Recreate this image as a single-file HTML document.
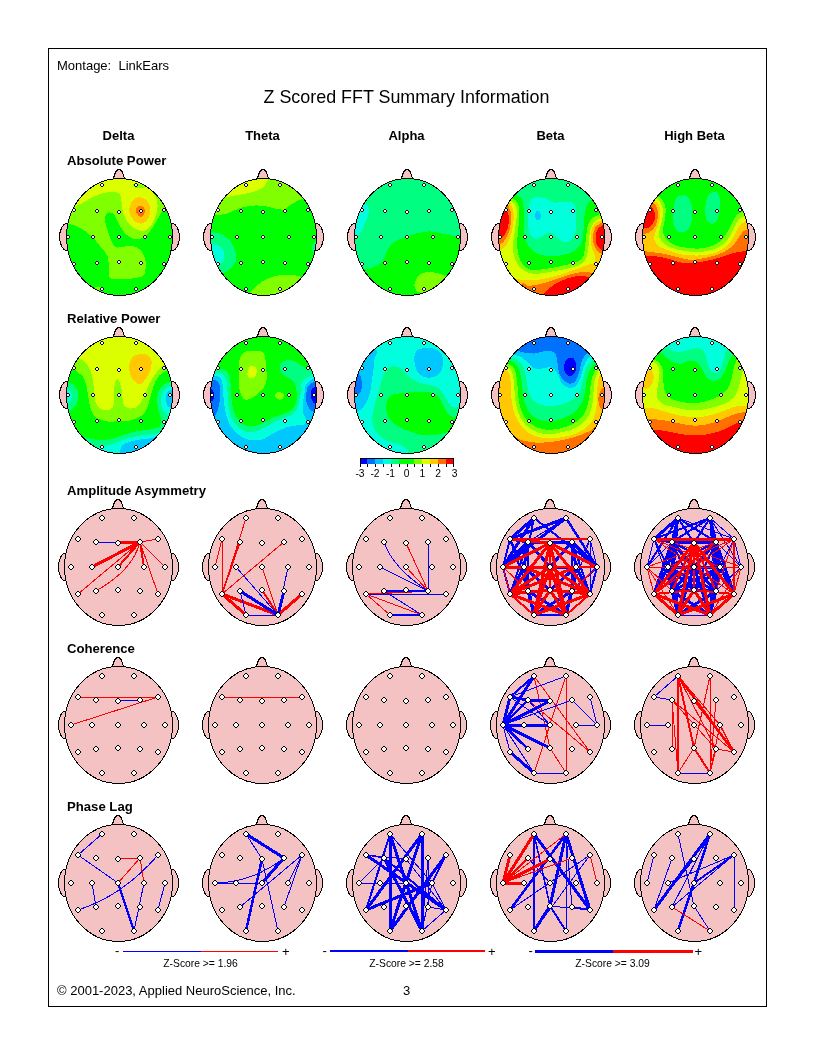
<!DOCTYPE html>
<html><head><meta charset="utf-8"><title>Z Scored FFT Summary Information</title>
<style>
html,body{margin:0;padding:0;background:#fff}
body{width:816px;height:1056px;overflow:hidden;position:relative}
svg{position:absolute;left:0;top:0}
svg .e{fill:#fff;stroke:#000;shape-rendering:auto}
svg text{font-family:"Liberation Sans",Arial,sans-serif;fill:#000;white-space:pre}
.frame{position:absolute;left:48px;top:48px;width:717px;height:957px;border:1px solid #000}
</style></head><body>
<div class="frame"></div>
<svg width="816" height="1056" viewBox="0 0 816 1056">
<defs>
<g id="e6"><path d="M2,0h2v1h1v1h1v2h-1v1h-1v1h-2v-1h-1v-1h-1v-2h1v-1h1z" fill="#000"/><path d="M2,1h2v1h1v2h-1v1h-2v-1h-1v-2h1z" fill="#fff"/></g>
<g id="e4"><path d="M1,0h2v1h1v2h-1v1h-2v-1h-1v-2h1z" fill="#000"/><rect x="1" y="1" width="2" height="2" fill="#fff"/></g>
</defs>
<g shape-rendering="crispEdges">
<ellipse cx="68" cy="237" rx="8.5" ry="14" fill="#f4c2c2" stroke="#000"/>
<ellipse cx="171" cy="237" rx="8.5" ry="14" fill="#f4c2c2" stroke="#000"/>
<path d="M112.5,180 C113.5,178.5 114,177 114.5,175 C115.5,171.5 117,169.5 119,169.5 C121,169.5 122.5,171.5 123.5,175 C124,177 124.5,178.5 125.5,180Z" fill="#f4c2c2" stroke="#000"/>
<clipPath id="c0"><ellipse cx="119.5" cy="237" rx="53" ry="58.5"/></clipPath>
<g clip-path="url(#c0)">
<rect x="62" y="175" width="114" height="124" fill="#00ff00"/>
<path d="M55.1,224.1 C57.1,235.6 63.7,223.8 67.2,224.1 C70.6,224.4 72.9,224.7 75.7,225.8 C78.6,226.9 81.5,228.7 84.3,230.6 C87.2,232.6 90,234.6 92.9,237.5 C95.8,240.3 99,244.6 101.5,247.8 C103.9,250.9 106.2,252.9 107.5,256.4 C108.8,259.8 108.8,264.9 109.2,268.4 C109.5,271.8 108.7,275.2 109.5,277 C110.4,278.7 111.4,278.7 114.3,279 C117.3,279.4 123.1,279.3 127.2,279 C131.4,278.7 136.3,278.2 139.2,277.3 C142.1,276.4 143.6,276.2 144.7,273.5 C145.8,270.9 145.9,264.9 145.6,261.5 C145.2,258.1 144,255.2 142.6,252.9 C141.3,250.6 139.6,248.9 137.5,247.8 C135.4,246.6 132.4,246.2 129.8,246.1 C127.2,245.9 124.3,246.7 122.1,246.9 C119.8,247.1 117.7,248 116.1,247.3 C114.4,246.6 113.4,245.1 112.1,242.6 C110.8,240.1 109.5,235.8 108.3,232.3 C107.2,228.9 105.7,224.9 105.2,222 C104.8,219.2 105.1,216.8 105.8,215.2 C106.4,213.6 107.8,212.4 109.2,212.3 C110.5,212.1 112.5,213 113.8,214.3 C115.2,215.7 116.1,218.2 117.3,220.3 C118.4,222.5 119.3,224.9 120.7,227.2 C122.1,229.5 123.8,232.2 125.8,234.1 C127.8,235.9 130.4,237.5 132.7,238.3 C135,239.1 137.3,239.3 139.6,238.9 C141.8,238.4 144.2,237.4 146.4,235.4 C148.7,233.5 150.9,230.3 152.9,227.2 C155,224.1 157.2,219.8 158.9,216.9 C160.7,214 161.1,211.6 163.2,210 C165.4,208.5 167.8,212.6 171.8,207.5 C175.8,202.3 184.7,187.9 187.3,179.2 C189.8,170.4 209.3,159.1 187.3,155.1 C165.2,151.1 77.2,143.6 55.1,155.1 C33.1,166.6 53.1,212.6 55.1,224.1Z" fill="#80ff00"/>
<path d="M67.2,205.8 C69,214 75.4,205.5 78.3,204.9 C81.2,204.2 81.9,203.1 84.3,201.8 C86.7,200.5 90,198.5 92.9,197.2 C95.8,195.8 98.6,194.6 101.5,193.7 C104.3,192.9 107.5,192.2 110,192 C112.6,191.8 115.2,192 116.9,192.5 C118.6,193.1 119.5,193.7 120.3,195.5 C121.1,197.2 121.3,200.5 121.7,203.2 C122.1,205.9 122.3,209.2 122.9,211.8 C123.5,214.3 124.2,216.3 125.5,218.6 C126.8,220.9 128.6,223.6 130.6,225.5 C132.6,227.3 135.2,228.9 137.5,229.8 C139.8,230.6 142.2,231.2 144.4,230.6 C146.5,230.1 148.7,228.3 150.4,226.3 C152.1,224.3 153.5,221.3 154.7,218.6 C155.8,215.9 156.8,212.9 157.2,210 C157.7,207.2 157.6,203.9 157.2,201.5 C156.9,199 155.6,197 155,195.5 C154.4,193.9 151.1,195.1 153.6,192.4 C156.1,189.7 167.4,185.4 170.1,179.2 C172.8,173 187.3,159.1 170.1,155.1 C152.9,151.1 84.3,146.7 67.2,155.1 C50,163.6 65.3,197.5 67.2,205.8Z" fill="#dcff00"/>
<path d="M133.7,184 C134.7,183.6 137.4,183.5 139.2,184 C141,184.4 144.4,185.8 144.7,186.5 C145,187.2 142.8,187.9 141.3,188.1 C139.8,188.3 137.1,188 135.8,187.7 C134.5,187.4 133.7,187 133.4,186.4 C133,185.7 132.8,184.4 133.7,184Z" fill="#80ff00"/>
<path d="M140.1,197.2 C141.8,197.4 144.4,198.2 146.1,199.7 C147.7,201.3 149.5,204 150,206.6 C150.6,209.2 150.2,212.8 149.5,215.2 C148.9,217.6 147.5,219.8 146.1,221.2 C144.6,222.6 142.8,223.8 140.9,223.8 C139.1,223.8 136.6,222.6 134.9,221.2 C133.2,219.8 131.6,217.2 130.6,215.2 C129.7,213.2 129.1,211.3 129.3,209.2 C129.4,207 130.5,204.1 131.5,202.3 C132.5,200.5 134,199.2 135.4,198.4 C136.9,197.5 138.3,196.9 140.1,197.2Z" fill="#ffc800"/>
<path d="M140.9,205.8 C141.9,206.1 143.7,207.2 144.4,208.3 C145,209.5 145.1,211.2 144.7,212.6 C144.3,214 142.8,216.1 141.8,216.6 C140.7,217 139.3,216.3 138.4,215.5 C137.4,214.7 136.4,213 136.1,211.8 C135.8,210.5 136.3,208.9 136.6,208 C137,207 137.6,206.5 138.4,206.1 C139.1,205.7 139.9,205.4 140.9,205.8Z" fill="#ff7000"/>
<path d="M93.8,288.1 C94.6,287.6 98.4,286.7 99.8,286.7 C101.1,286.7 102,287.6 101.8,288.1 C101.6,288.6 99.5,289.7 98.4,290 C97.2,290.3 95.7,290.3 95,290 C94.2,289.7 92.9,288.6 93.8,288.1Z" fill="#80ff00"/>
</g>
<ellipse cx="119.5" cy="237" rx="53" ry="58.5" fill="none" stroke="#000"/>
<ellipse cx="212" cy="237" rx="8.5" ry="14" fill="#f4c2c2" stroke="#000"/>
<ellipse cx="315" cy="237" rx="8.5" ry="14" fill="#f4c2c2" stroke="#000"/>
<path d="M256.5,180 C257.5,178.5 258,177 258.5,175 C259.5,171.5 261,169.5 263,169.5 C265,169.5 266.5,171.5 267.5,175 C268,177 268.5,178.5 269.5,180Z" fill="#f4c2c2" stroke="#000"/>
<clipPath id="c1"><ellipse cx="263.5" cy="237" rx="53" ry="58.5"/></clipPath>
<g clip-path="url(#c1)">
<rect x="206" y="175" width="114" height="124" fill="#00ff00"/>
<path d="M199.1,215.9 C201.1,225.9 207.7,215.7 211.2,215.5 C214.6,215.4 216.9,215.2 219.7,214.8 C222.6,214.4 225.2,214.2 228.3,213.1 C231.5,212.1 234.9,209.9 238.6,208.7 C242.3,207.4 246.6,206.2 250.6,205.8 C254.6,205.3 258.9,205.4 262.6,205.8 C266.3,206.1 269.5,207.3 272.9,208 C276.4,208.6 280.8,209.9 283.2,209.7 C285.6,209.5 285.2,208.4 287.5,207 C289.8,205.5 293.9,202.6 296.9,201.1 C299.9,199.6 302.7,198.7 305.5,198 C308.4,197.4 309.8,197.5 314.1,197.2 C318.4,196.9 328.4,203.3 331.3,196.3 C334.1,189.3 353.3,162 331.3,155.1 C309.2,148.3 221.2,145 199.1,155.1 C177.1,165.3 197.1,205.8 199.1,215.9Z" fill="#80ff00"/>
<path d="M211.2,198 C213.6,205 221.7,197.6 225.7,197.2 C229.7,196.7 231.9,196 235.2,195.5 C238.5,194.9 242.3,194.4 245.5,193.7 C248.6,193.1 251.2,192.5 254,191.5 C256.9,190.5 260.5,189.4 262.6,187.7 C264.8,186.1 266,183.4 266.9,181.7 C267.8,180 267.9,181.9 268.1,177.4 C268.3,173 277.6,158.9 268.1,155.1 C258.6,151.4 220.7,148 211.2,155.1 C201.7,162.3 208.7,191 211.2,198Z" fill="#dcff00"/>
<path d="M199.1,231.5 C200.9,224.2 206.6,231.3 209.4,231.5 C212.3,231.7 214,232.1 216.3,232.7 C218.6,233.3 220.7,233.4 223.2,234.9 C225.6,236.4 228.7,238.8 230.9,241.8 C233,244.8 235.3,249.4 236,252.9 C236.7,256.5 236.5,260.4 235.2,263.2 C233.9,266.1 230.5,268.4 228.3,270.1 C226.2,271.8 224,272.8 222.3,273.5 C220.6,274.3 221.9,274.3 218,274.5 C214.2,274.8 202.3,282.4 199.1,275.2 C196,268.1 197.4,238.8 199.1,231.5Z" fill="#00ff80"/>
<path d="M199.1,244 C201,240.5 207.4,243.9 210.3,244 C213.2,244.1 214.4,244.1 216.3,244.7 C218.2,245.3 220.1,246.1 221.5,247.8 C222.8,249.4 224.4,252.2 224.5,254.6 C224.7,257.1 223.5,260.7 222.3,262.4 C221.1,264.1 218.9,264.5 217.2,264.9 C215.4,265.4 215,265.2 212,265.3 C209,265.3 201.3,268.8 199.1,265.3 C197,261.7 197.3,247.6 199.1,244Z" fill="#00ffdc"/>
<path d="M321,241.8 C320.2,239.8 317.4,241.7 316.2,242 C314.9,242.2 314.1,242.4 313.4,243.3 C312.7,244.3 312.1,246.2 312,247.8 C312,249.3 312.5,251.6 313.2,252.6 C314,253.6 315.4,253.4 316.7,253.6 C318,253.8 320.2,255.6 321,253.6 C321.7,251.6 321.8,243.7 321,241.8Z" fill="#00ff80"/>
<path d="M321,244.4 C320.2,243.3 317.2,244.1 316.2,244.7 C315.1,245.3 314.7,246.8 314.6,247.8 C314.5,248.8 314.4,250.3 315.5,250.9 C316.5,251.4 320,252.3 321,251.2 C321.9,250.1 321.8,245.4 321,244.4Z" fill="#00ffdc"/>
<path d="M248.6,295 C249.6,291.3 250.6,292.1 251.5,291 C252.4,290 252.6,290 254,288.6 C255.5,287.3 257.8,284.6 260.1,283 C262.3,281.3 265.1,279.9 267.8,278.7 C270.5,277.5 273.2,276.4 276.4,275.8 C279.5,275.1 283.2,274.9 286.6,274.9 C290.1,274.9 294.1,275 296.9,275.6 C299.8,276.2 301.9,277.4 303.8,278.3 C305.7,279.3 305.2,280 308.1,281.2 C311,282.4 318.8,280.2 321,285.5 C323.1,290.8 333.5,308.4 321,313 C308.4,317.6 257.5,316 245.5,313 C233.4,310 247.6,298.6 248.6,295Z" fill="#80ff00"/>
</g>
<ellipse cx="263.5" cy="237" rx="53" ry="58.5" fill="none" stroke="#000"/>
<ellipse cx="356" cy="237" rx="8.5" ry="14" fill="#f4c2c2" stroke="#000"/>
<ellipse cx="459" cy="237" rx="8.5" ry="14" fill="#f4c2c2" stroke="#000"/>
<path d="M400.5,180 C401.5,178.5 402,177 402.5,175 C403.5,171.5 405,169.5 407,169.5 C409,169.5 410.5,171.5 411.5,175 C412,177 412.5,178.5 413.5,180Z" fill="#f4c2c2" stroke="#000"/>
<clipPath id="c2"><ellipse cx="407.5" cy="237" rx="53" ry="58.5"/></clipPath>
<g clip-path="url(#c2)">
<rect x="350" y="175" width="114" height="124" fill="#00ff80"/>
<path d="M358.6,269.7 C361.4,262.5 363.2,269.6 365.5,269.2 C367.7,268.9 370,268.4 372.3,267.5 C374.6,266.7 377.2,265.7 379.2,264.1 C381.2,262.5 383,260.2 384.3,258.1 C385.6,255.9 385.8,253.5 386.9,251.2 C388,248.9 389.3,246.2 391.2,244.4 C393,242.5 395.5,241.4 398,240.1 C400.6,238.8 403.8,237.7 406.6,236.6 C409.5,235.6 412.3,234.5 415.2,233.7 C418.1,232.9 421.2,232.4 423.8,232 C426.4,231.6 427.8,231.3 430.6,231.5 C433.5,231.7 437.5,232.5 440.9,233.2 C444.4,233.9 447.9,234.9 451.2,235.4 C454.5,235.9 456.7,236.1 460.7,236.1 C464.7,236.2 472.8,223 475.3,235.8 C477.7,248.6 496.4,300.1 475.3,313 C454.1,325.8 367.7,320.2 348.3,313 C328.8,305.8 355.7,277 358.6,269.7Z" fill="#00ff00"/>
<path d="M343.1,202.8 C346.6,197.4 359.7,202.4 363.7,202.8 C367.8,203.3 366.6,204.3 367.5,205.4 C368.4,206.5 369.1,207.6 369.2,209.2 C369.3,210.8 368.9,212.9 368.2,215.2 C367.5,217.5 366.2,220.2 365.1,222.9 C364,225.6 362.8,229.5 361.7,231.5 C360.5,233.5 359.5,234.3 358.2,234.9 C357,235.5 356.8,235.2 354.3,235.3 C351.8,235.3 345,240.7 343.1,235.3 C341.3,229.9 339.7,208.2 343.1,202.8Z" fill="#00ffdc"/>
<path d="M449.2,201.1 L451.2,204.9 L452.6,208.7 L465,209 L465,201.1Z" fill="#00ffdc"/>
<path d="M414.3,285.5 C414.3,283.6 415.1,281.4 416.1,279.5 C417.1,277.7 418.5,275.6 420.4,274.4 C422.2,273.1 424.6,272.4 427.2,272.1 C429.8,271.9 433.2,272.2 435.8,272.7 C438.4,273.1 440.5,273.9 442.7,274.7 C444.8,275.5 444.9,276.1 448.7,277.3 C452.4,278.5 462.2,276.2 465,282.1 C467.7,288 471.7,307.8 465,313 C458.2,318.1 431.8,316.1 424.6,313 C417.4,309.9 423.1,298.1 421.7,294.5 C420.4,290.8 417.8,292.5 416.6,291 C415.3,289.5 414.4,287.4 414.3,285.5Z" fill="#80ff00"/>
</g>
<ellipse cx="407.5" cy="237" rx="53" ry="58.5" fill="none" stroke="#000"/>
<ellipse cx="500" cy="237" rx="8.5" ry="14" fill="#f4c2c2" stroke="#000"/>
<ellipse cx="603" cy="237" rx="8.5" ry="14" fill="#f4c2c2" stroke="#000"/>
<path d="M544.5,180 C545.5,178.5 546,177 546.5,175 C547.5,171.5 549,169.5 551,169.5 C553,169.5 554.5,171.5 555.5,175 C556,177 556.5,178.5 557.5,180Z" fill="#f4c2c2" stroke="#000"/>
<clipPath id="c3"><ellipse cx="551.5" cy="237" rx="53" ry="58.5"/></clipPath>
<g clip-path="url(#c3)">
<rect x="494" y="175" width="114" height="124" fill="#00ff00"/>
<path d="M516,194.6 C518.6,196.5 520.5,196.3 521.8,198.9 C523.1,201.5 523.7,206.2 524,210 C524.3,213.9 523.6,218 523.7,222 C523.8,226.1 523.9,230.3 524.5,234.1 C525.2,237.8 526,241.5 527.5,244.4 C529,247.2 531,249.4 533.5,251.2 C535.9,253 538.6,254.4 542,255.2 C545.5,256 550.1,256.2 554.1,256 C558.1,255.9 562.6,255.2 566.1,254.3 C569.5,253.4 572.2,252.5 574.6,250.9 C577.1,249.2 579.2,247.2 580.7,244.4 C582.1,241.6 582.7,238.1 583.2,234.1 C583.8,230.1 583.7,224.6 584.1,220.3 C584.5,216 584.9,211.4 585.8,208.3 C586.7,205.2 587.8,203.5 589.2,201.8 C590.7,200.1 591.1,200.7 594.4,198.4 C597.7,196 606.5,194.9 609,187.7 C611.4,180.5 627.5,160.6 609,155.1 C590.4,149.7 514.6,149.7 497.4,155.1 C480.3,160.6 502.9,181.2 506,187.7 C509.1,194.3 513.3,192.7 516,194.6Z" fill="#00ff80"/>
<path d="M531.8,198.9 C533.4,197.3 536,197.2 538.6,197.2 C541.2,197.2 544.6,198 547.2,198.9 C549.8,199.7 551.5,201.7 554.1,202.3 C556.6,202.9 559.8,202.3 562.6,202.3 C565.5,202.3 569.1,201.6 571.2,202.3 C573.4,203 574.6,204.2 575.5,206.6 C576.4,209 576.4,212.9 576.4,216.9 C576.4,220.9 576.2,226.9 575.5,230.6 C574.8,234.3 573.6,237.3 572.1,239.2 C570.5,241.2 568.2,242.3 566.1,242.3 C563.9,242.3 561.5,240.7 559.2,239.2 C556.9,237.7 554.6,234.1 552.3,233.2 C550.1,232.3 547.8,233.2 545.5,234.1 C543.2,234.9 540.8,237.8 538.6,238.3 C536.5,238.9 534.3,238.8 532.6,237.5 C531,236.2 529.4,233.8 528.7,230.6 C527.9,227.5 528,222.6 528,218.6 C528,214.6 528,209.9 528.7,206.6 C529.3,203.3 530.1,200.5 531.8,198.9Z" fill="#00ffdc"/>
<path d="M536,211.8 C536.8,210.8 538.7,210.8 539.5,211.4 C540.2,212 540.6,213.8 540.7,215.2 C540.8,216.5 540.6,218.6 540,219.5 C539.4,220.3 537.7,220.8 536.9,220.3 C536.1,219.9 535.3,218.3 535.2,216.9 C535,215.5 535.3,212.7 536,211.8Z" fill="#00c8ff"/>
<path d="M512.2,198.5 C515.5,199.6 516,200.6 517.2,202.7 C518.4,204.7 519.1,207.7 519.4,210.9 C519.7,214.1 519.2,218.2 518.9,222 C518.6,225.9 518,230.1 517.7,234.1 C517.4,238.1 517,242.4 517.2,246.1 C517.4,249.8 517.9,253.2 518.9,256.4 C519.9,259.5 521,262.7 523.2,264.9 C525.3,267.2 528.6,269.3 531.8,270.1 C534.9,270.8 538.3,269.8 542,269.4 C545.8,269 550.1,268.3 554.1,267.5 C558.1,266.8 562.1,265.9 566.1,264.9 C570.1,263.9 575.2,263.1 578.1,261.5 C581,259.9 582.4,258.4 583.6,255.5 C584.8,252.6 584.8,247.9 585.3,244.4 C585.7,240.8 585.8,237.5 586.3,234.1 C586.8,230.6 587.3,226.5 588.4,223.8 C589.4,221 590.9,219.2 592.7,217.8 C594.4,216.3 596,215.6 598.7,214.8 C601.4,214.1 605.5,208 609,213.5 C612.4,219 617.5,231.2 619.3,247.8 C621,264.4 641.6,302.1 619.3,313 C597,323.8 507.7,326.7 485.4,313 C463.1,299.3 483.4,250.1 485.4,230.6 C487.4,211.2 493,201.7 497.4,196.3 C501.9,191 508.9,197.5 512.2,198.5Z" fill="#80ff00"/>
<path d="M510,200.8 C513.2,201.8 514,203.1 515.1,204.9 C516.3,206.7 516.7,208.9 516.8,211.8 C517,214.6 516.4,218.3 516,222 C515.5,225.8 514.8,230.3 514.3,234.1 C513.7,237.8 513,240.9 512.9,244.4 C512.8,247.8 513,251.5 513.7,254.6 C514.5,257.8 515.6,260.7 517.2,263.2 C518.7,265.8 520.7,268.4 523.2,270.1 C525.6,271.8 528.9,272.9 531.8,273.5 C534.6,274.1 537.2,273.8 540.3,273.5 C543.5,273.2 546.9,272.4 550.6,271.8 C554.3,271.2 558.6,270.6 562.6,269.7 C566.6,268.9 571.4,267.7 574.6,266.7 C577.9,265.6 580.4,264.9 582.4,263.2 C584.4,261.5 585.7,258.9 586.7,256.4 C587.7,253.8 587.9,250.9 588.4,247.8 C588.8,244.6 588.8,240.8 589.2,237.5 C589.7,234.2 590.1,230.6 590.9,228.1 C591.8,225.5 592.8,223.7 594.4,222 C596,220.4 598,219.1 600.4,218.3 C602.8,217.4 605.8,212 609,216.9 C612.1,221.8 617.5,231.8 619.3,247.8 C621,263.8 641.6,302.1 619.3,313 C597,323.8 507.7,326.7 485.4,313 C463.1,299.3 483.7,249.6 485.4,230.6 C487.1,211.6 491.6,203.9 495.7,198.9 C499.8,193.9 506.7,199.8 510,200.8Z" fill="#dcff00"/>
<path d="M514.9,279.2 C517.5,277.2 520.4,280.2 523.2,280.4 C526,280.6 528.9,280.5 531.8,280.4 C534.6,280.2 537.2,280 540.3,279.5 C543.5,279 547.2,278.2 550.6,277.3 C554.1,276.4 557.5,275.4 560.9,274.4 C564.4,273.3 568.1,272 571.2,270.9 C574.4,269.9 577.1,269 579.8,268 C582.5,267 585.2,265.7 587.5,264.9 C589.8,264.1 592.2,264.1 593.5,263.2 C594.8,262.4 595.1,261.2 595.2,259.8 C595.4,258.4 594.9,256.6 594.4,254.6 C593.8,252.6 592.4,250.4 591.8,247.8 C591.2,245.2 590.7,242.1 590.6,239.2 C590.5,236.3 590.8,233.1 591.5,230.6 C592.1,228.1 592.9,225.8 594.4,224.1 C595.9,222.4 598,221.4 600.4,220.7 C602.8,219.9 605.8,215.1 609,219.6 C612.1,224.2 617.5,232.2 619.3,247.8 C621,263.3 638.4,302.1 619.3,313 C600.1,323.8 522.9,316.4 504.3,313 C485.7,309.5 506,298 507.7,292.4 C509.5,286.8 512.4,281.2 514.9,279.2Z" fill="#ffc800"/>
<path d="M487.1,202.5 C490.6,194.4 503.7,201.9 507.7,202.5 C511.8,203 510.5,203.9 511.5,205.8 C512.5,207.6 513.5,210.5 513.7,213.5 C514,216.5 513.7,220.3 513.2,223.8 C512.8,227.2 512.1,230.9 511.2,234.1 C510.3,237.2 509,240.2 507.7,242.6 C506.4,245.1 504.9,247.3 503.4,248.6 C502,250 501.9,250.3 499.2,250.7 C496.4,251.1 489.1,259.3 487.1,251.2 C485.1,243.2 483.7,210.6 487.1,202.5Z" fill="#ffc800"/>
<path d="M487.1,205.4 C490.3,198.9 502.3,204.9 506,205.4 C509.7,206 508.6,207 509.5,208.7 C510.3,210.3 511,212.4 511.2,215.2 C511.3,218 511.1,222.2 510.5,225.5 C509.9,228.8 508.9,232.2 507.7,234.9 C506.6,237.6 504.9,240.3 503.4,241.8 C502,243.3 501.9,243.4 499.2,243.8 C496.4,244.3 489.1,250.8 487.1,244.4 C485.1,237.9 484,211.9 487.1,205.4Z" fill="#ff7000"/>
<path d="M487.1,208.7 C489.9,203.7 500.6,208.3 504,208.8 C507.3,209.4 506.6,210.1 507.4,211.8 C508.2,213.4 508.9,215.9 508.9,218.6 C509,221.3 508.5,225.3 507.7,228.1 C507,230.8 505.6,233.2 504.3,234.9 C503,236.7 502.9,237.9 500,238.5 C497.2,239.2 489.3,243.8 487.1,238.9 C485,233.9 484.3,213.7 487.1,208.7Z" fill="#ff0000"/>
<path d="M612.4,222 C611.2,216.6 607.5,222 605.5,222.2 C603.5,222.4 602,222.6 600.4,223.4 C598.7,224.3 596.8,225.4 595.6,227.2 C594.4,229 593.6,231.8 593.2,234.1 C592.7,236.3 592.7,238.6 593,240.9 C593.3,243.2 594.1,245.8 595.2,247.8 C596.3,249.8 597.8,251.8 599.5,252.9 C601.2,254.1 603.4,254.5 605.5,254.8 C607.7,255.1 611.2,260.3 612.4,254.8 C613.5,249.4 613.5,227.5 612.4,222Z" fill="#ff7000"/>
<path d="M612.4,224.8 C611.2,220.5 607.4,224.8 605.5,225 C603.7,225.2 602.6,225.2 601.2,226 C599.9,226.8 598.2,228.1 597.3,229.8 C596.4,231.4 595.8,233.6 595.6,235.8 C595.4,237.9 595.5,240.6 596.1,242.6 C596.7,244.6 597.9,246.5 599,247.8 C600.2,249.1 600.7,250 603,250.5 C605.2,251 610.8,255.2 612.4,250.9 C614,246.6 613.5,229.1 612.4,224.8Z" fill="#ff0000"/>
<path d="M521.1,284.8 C523.7,280.3 525.7,285.9 528.3,285.9 C531,285.8 533.8,285.3 536.9,284.7 C540,284 543.8,283.1 547.2,282.1 C550.6,281.1 554.1,279.8 557.5,278.7 C560.9,277.5 564.4,276.2 567.8,275.2 C571.2,274.2 574.9,273.2 578.1,272.7 C581.2,272.1 584.2,271.7 586.7,271.8 C589.1,271.9 590.7,272.7 592.7,273.2 C594.7,273.6 595.4,272.9 598.7,274.4 C602,275.9 610.1,275.7 612.4,282.1 C614.7,288.5 629,307.8 612.4,313 C595.8,318.1 528.1,317.7 512.9,313 C497.7,308.3 518.5,289.4 521.1,284.8Z" fill="#ff7000"/>
<path d="M543.4,295.5 C545,291.6 546.3,291.6 548.1,289.8 C549.8,288 551.6,286.2 554.1,284.7 C556.5,283.1 559.8,281.6 562.6,280.4 C565.5,279.2 568.4,278 571.2,277.3 C574.1,276.6 577.2,276.2 579.8,276.1 C582.4,276 584.7,276.1 586.7,276.6 C588.7,277.1 587.5,277.5 591.8,279 C596.1,280.5 609,279.9 612.4,285.5 C615.8,291.2 624.7,308.4 612.4,313 C600.1,317.6 550.1,315.9 538.6,313 C527.1,310.1 541.8,299.3 543.4,295.5Z" fill="#ff0000"/>
</g>
<ellipse cx="551.5" cy="237" rx="53" ry="58.5" fill="none" stroke="#000"/>
<ellipse cx="644" cy="237" rx="8.5" ry="14" fill="#f4c2c2" stroke="#000"/>
<ellipse cx="747" cy="237" rx="8.5" ry="14" fill="#f4c2c2" stroke="#000"/>
<path d="M688.5,180 C689.5,178.5 690,177 690.5,175 C691.5,171.5 693,169.5 695,169.5 C697,169.5 698.5,171.5 699.5,175 C700,177 700.5,178.5 701.5,180Z" fill="#f4c2c2" stroke="#000"/>
<clipPath id="c4"><ellipse cx="695.5" cy="237" rx="53" ry="58.5"/></clipPath>
<g clip-path="url(#c4)">
<rect x="638" y="175" width="114" height="124" fill="#00ff00"/>
<path d="M680.9,195.5 C682.5,195.3 685.2,195 686.9,196.3 C688.6,197.6 690.3,200.3 691.2,203.2 C692.1,206 692.1,210 692.1,213.5 C692.1,216.9 692.1,220.9 691.2,223.8 C690.3,226.6 688.6,229.2 686.9,230.6 C685.2,232.1 682.8,232.5 680.9,232.3 C679,232.2 677,231.5 675.8,229.8 C674.5,228.1 673.6,225.1 673.2,222 C672.8,219 672.9,215.2 673.2,211.8 C673.5,208.3 674.2,203.9 674.9,201.5 C675.6,199 676.5,198.2 677.5,197.2 C678.5,196.2 679.3,195.6 680.9,195.5Z" fill="#00ff80"/>
<path d="M713.5,192 C715.2,191.7 717.6,192.2 718.6,193.7 C719.7,195.3 719.9,198.5 720,201.5 C720.2,204.5 720,208.6 719.5,211.8 C719,214.9 718.2,218.3 716.9,220.3 C715.6,222.3 713.4,223.6 711.8,223.8 C710.2,223.9 708.6,222.9 707.5,221.2 C706.4,219.5 705.6,216.5 705.3,213.5 C705,210.5 705.3,206.2 705.8,203.2 C706.3,200.2 707.1,197.3 708.4,195.5 C709.6,193.6 711.8,192.3 713.5,192Z" fill="#00ff80"/>
<path d="M657.4,196 C660.7,197.3 661.5,198.5 662.9,200.6 C664.2,202.7 665.1,205.3 665.5,208.3 C665.8,211.3 665.5,215.2 665.1,218.6 C664.7,222 663.1,226.1 662.9,228.9 C662.7,231.8 663.1,233.6 664.1,235.8 C665.1,237.9 666.7,240.1 668.9,241.8 C671.1,243.5 674.3,245.1 677.5,246.1 C680.6,247.1 684.3,247.4 687.8,247.8 C691.2,248.2 694.6,248.8 698.1,248.6 C701.5,248.5 705.2,247.8 708.4,246.9 C711.5,246.1 714.4,245.1 716.9,243.5 C719.5,241.9 721.8,239.9 723.8,237.5 C725.8,235.1 727.4,231.8 728.9,228.9 C730.5,226.1 731.8,222.8 733.2,220.3 C734.7,217.9 735.8,215.8 737.5,214.3 C739.2,212.9 741,212.3 743.5,211.8 C746.1,211.2 749.7,204.9 753,210.9 C756.2,216.9 761.5,230.8 763.3,247.8 C765,264.8 785.6,302.1 763.3,313 C741,323.8 651.7,326.7 629.4,313 C607.1,299.3 627.1,250.6 629.4,230.6 C631.7,210.6 638.5,198.7 643.2,192.9 C647.8,187.1 654.1,194.7 657.4,196Z" fill="#80ff00"/>
<path d="M655.2,198 C658.3,199.2 659,200.3 660.3,202.3 C661.6,204.3 662.6,207 662.9,210 C663.2,213 662.6,217 662,220.3 C661.5,223.6 659.9,226.9 659.5,229.8 C659,232.6 658.6,235.1 659.5,237.5 C660.3,239.9 662.2,242.5 664.6,244.4 C667,246.2 670.5,247.5 674,248.6 C677.6,249.8 682,250.6 686,251.2 C690.1,251.8 694.1,252.2 698.1,252.1 C702.1,251.9 706.5,251.2 710.1,250.4 C713.6,249.5 716.6,248.6 719.5,246.9 C722.4,245.2 725.1,242.6 727.2,240.1 C729.4,237.5 730.8,234.3 732.4,231.5 C733.9,228.6 735.2,225.2 736.7,222.9 C738.1,220.6 739.2,219 741,217.8 C742.7,216.5 745,216 747,215.5 C749,215 750.2,209.5 753,214.8 C755.7,220.2 761.5,231.4 763.3,247.8 C765,264.1 785.6,302.1 763.3,313 C741,323.8 651.7,326.7 629.4,313 C607.1,299.3 627.4,250.2 629.4,230.6 C631.4,211 637.2,200.9 641.4,195.5 C645.7,190 652,196.9 655.2,198Z" fill="#dcff00"/>
<path d="M653.1,200.3 C656.2,201.5 657.1,202.6 658.3,204.5 C659.5,206.5 660.1,209 660.3,211.8 C660.5,214.5 660.2,218 659.5,221.2 C658.7,224.3 656.9,227.6 656,230.6 C655.2,233.6 653.9,236.6 654.3,239.2 C654.7,241.8 656.2,244.2 658.6,246.1 C661,247.9 664.9,248.9 668.9,250.4 C672.9,251.8 677.8,253.8 682.6,254.6 C687.5,255.5 693.2,255.6 698.1,255.5 C702.9,255.4 707.8,254.8 711.8,253.8 C715.8,252.8 719.1,251.4 722.1,249.5 C725.1,247.6 727.7,245.2 729.8,242.6 C731.9,240.1 733.4,236.8 734.9,234.1 C736.5,231.3 737.7,228.3 739.2,226.3 C740.8,224.3 742.1,223 744.4,222 C746.7,221 749.8,216 753,220.3 C756.1,224.6 761.5,232.3 763.3,247.8 C765,263.2 785.6,302.1 763.3,313 C741,323.8 651.7,326.7 629.4,313 C607.1,299.3 627.7,249.9 629.4,230.6 C631.1,211.3 635.8,202.2 639.7,197.2 C643.7,192.1 650,199 653.1,200.3Z" fill="#ffc800"/>
<path d="M631.1,202.5 C634.5,197.2 647.2,201.8 651.4,202.5 C655.6,203.2 655.1,204.8 656.2,206.6 C657.3,208.4 658,210.9 658.1,213.5 C658.2,216 657.7,219.5 656.9,222 C656.1,224.6 655,227.1 653.5,228.9 C651.9,230.8 649.4,232.3 647.4,233.2 C645.4,234.1 644.2,234.1 641.4,234.2 C638.7,234.4 632.9,239.5 631.1,234.2 C629.4,228.9 627.8,207.8 631.1,202.5Z" fill="#ff7000"/>
<path d="M631.1,206.6 C634.1,203 645.4,206.1 649.2,206.6 C652.9,207.1 652.5,208.3 653.5,209.7 C654.5,211.1 655.1,213.1 655.2,215.2 C655.2,217.2 654.7,220.1 653.8,222 C652.9,224 651.5,225.8 650,226.9 C648.5,227.9 648,228 644.9,228.2 C641.7,228.5 633.4,231.8 631.1,228.2 C628.9,224.6 628.1,210.2 631.1,206.6Z" fill="#ff0000"/>
<path d="M631.1,251.2 C633.1,240.9 639.7,251.1 643.2,251.2 C646.6,251.4 648.3,251.6 651.7,252.1 C655.2,252.5 659.5,252.9 663.7,253.8 C668,254.6 673.2,256.2 677.5,257.2 C681.8,258.2 685.8,259.5 689.5,259.8 C693.2,260.1 696.1,259.5 699.8,258.9 C703.5,258.4 707.8,257.5 711.8,256.4 C715.8,255.2 720.4,253.8 723.8,252.1 C727.2,250.4 730.1,248.2 732.4,246.1 C734.7,243.9 735.9,241.4 737.5,239.2 C739.1,237.1 740.4,234.8 741.8,233.2 C743.2,231.6 743.7,230.6 746.1,229.8 C748.5,228.9 753.5,222.2 756.4,228.1 C759.3,233.9 762.1,250.8 763.3,264.9 C764.4,279.1 785.3,305 763.3,313 C741.2,321 653.2,323.3 631.1,313 C609.1,302.7 629.1,261.5 631.1,251.2Z" fill="#ff7000"/>
<path d="M631.1,256 C633.3,246.5 640.3,256 644,256 C647.7,256 649.9,255.7 653.5,256 C657,256.4 661.5,257.2 665.5,258.1 C669.5,259 674,260.7 677.5,261.5 C680.9,262.4 683.2,263.1 686,263.2 C688.9,263.3 691.9,262.5 694.8,262.2 C697.7,261.9 699.8,262.1 703.2,261.5 C706.6,261 711.5,259.9 715.2,258.9 C718.9,257.9 722.1,256.6 725.5,255.5 C728.9,254.4 732.7,253.3 735.8,252.6 C738.9,251.9 741,251.5 744.4,251.2 C747.8,250.9 753.2,245.6 756.4,250.7 C759.5,255.8 762.1,271.7 763.3,282.1 C764.4,292.5 785.3,307.8 763.3,313 C741.2,318.1 653.2,322.5 631.1,313 C609.1,303.5 629,265.5 631.1,256Z" fill="#ff0000"/>
</g>
<ellipse cx="695.5" cy="237" rx="53" ry="58.5" fill="none" stroke="#000"/>
<ellipse cx="68" cy="395" rx="8.5" ry="14" fill="#f4c2c2" stroke="#000"/>
<ellipse cx="171" cy="395" rx="8.5" ry="14" fill="#f4c2c2" stroke="#000"/>
<path d="M112.5,338 C113.5,336.5 114,335 114.5,333 C115.5,329.5 117,327.5 119,327.5 C121,327.5 122.5,329.5 123.5,333 C124,335 124.5,336.5 125.5,338Z" fill="#f4c2c2" stroke="#000"/>
<clipPath id="c5"><ellipse cx="119.5" cy="395" rx="53" ry="58.5"/></clipPath>
<g clip-path="url(#c5)">
<rect x="62" y="333" width="114" height="124" fill="#00ff00"/>
<path d="M55.1,369.2 C58.1,378.6 69.2,368.8 72.8,369.2 C76.5,369.7 75.5,370.7 77.1,371.8 C78.7,373 80.8,374.2 82.3,376.1 C83.7,378 84.8,380.4 85.7,383 C86.5,385.5 86.9,388.7 87.4,391.5 C87.9,394.4 88.2,397.3 88.8,400.1 C89.3,403 89.9,406 90.8,408.7 C91.7,411.4 92.6,414.3 94.3,416.1 C95.9,417.9 98.3,418.6 100.6,419.5 C103,420.4 105.3,421.3 108.3,421.6 C111.3,421.9 114.9,421.4 118.6,421.2 C122.3,421 126.8,421.3 130.6,420.4 C134.5,419.4 139.1,417.5 141.8,415.6 C144.5,413.6 145.6,411.3 146.9,408.7 C148.2,406.1 148.7,403 149.5,400.1 C150.4,397.3 151.2,394.4 152.1,391.5 C152.9,388.7 153.5,385.5 154.7,383 C155.8,380.4 157.4,378 158.9,376.1 C160.5,374.2 162.5,372.8 164.1,371.8 C165.7,370.8 166.2,370.6 168.4,370.1 C170.5,369.6 173.8,374.4 177,368.9 C180.1,363.4 185.5,346.5 187.3,337.2 C189,327.9 209.3,317.1 187.3,313.1 C165.2,309.1 77.2,303.8 55.1,313.1 C33.1,322.5 52.2,359.9 55.1,369.2Z" fill="#80ff00"/>
<path d="M55.1,358.1 C58.9,365.7 72.6,357.9 77.5,358.6 C82.3,359.3 82.2,360.2 84.3,362 C86.5,363.9 88.9,366.8 90.3,369.8 C91.7,372.8 92.2,376.3 92.9,380 C93.5,383.8 93.8,388.3 94.3,392.1 C94.7,395.8 94.6,399.6 95.5,402.4 C96.4,405.1 97.9,407.1 99.8,408.4 C101.6,409.6 104.5,410.2 106.6,410.1 C108.8,409.9 111.3,409.4 112.6,407.5 C113.9,405.6 114.1,402.4 114.3,398.9 C114.6,395.5 114.1,390.1 114.3,386.9 C114.6,383.8 115.3,381.1 116.1,380 C116.8,379 117.8,379.2 118.6,380.4 C119.5,381.5 120.6,384.1 121.2,386.9 C121.8,389.7 122,394.2 122.4,397.2 C122.8,400.2 122.7,403.1 123.8,404.9 C124.9,406.8 126.9,407.9 128.9,408.4 C130.9,408.8 133.8,408.5 135.8,407.5 C137.8,406.5 139.4,404.6 140.9,402.4 C142.5,400.1 143.8,396.9 145.2,393.8 C146.7,390.6 147.9,386.6 149.5,383.5 C151.1,380.3 152.9,377.3 154.7,374.9 C156.4,372.5 158.2,370.5 159.8,368.9 C161.4,367.3 161.2,366.6 164.1,365.5 C167,364.3 173.1,366.8 177,362 C180.8,357.3 185.5,345.3 187.3,337.2 C189,329 209.3,317.1 187.3,313.1 C165.2,309.1 77.2,305.6 55.1,313.1 C33.1,320.6 51.4,350.5 55.1,358.1Z" fill="#dcff00"/>
<path d="M140.9,354 C142.9,354 146,354 147.8,355.2 C149.6,356.4 151.1,358.7 151.6,361.2 C152,363.6 151.3,366.9 150.4,369.8 C149.5,372.6 147.8,375.9 146.1,378.3 C144.4,380.8 141.9,383.8 140.1,384.3 C138.2,384.9 136.5,383.3 134.9,381.8 C133.4,380.2 131.6,377.5 130.6,374.9 C129.6,372.3 128.8,369 128.9,366.3 C129.1,363.6 130.4,360.5 131.5,358.6 C132.6,356.7 134.2,355.9 135.8,355.2 C137.4,354.4 138.9,354 140.9,354Z" fill="#ffc800"/>
<path d="M55.1,382.6 C57.1,377.8 64.3,382.3 67.2,382.6 C70,382.9 70.7,383.3 72.3,384.3 C73.9,385.3 75.6,386.8 76.6,388.6 C77.6,390.5 78.3,392.9 78.3,395.5 C78.3,398.1 77.6,401.8 76.6,404.1 C75.6,406.4 73.7,408 72.3,409.2 C70.9,410.4 70.9,410.7 68,411.1 C65.2,411.5 57.3,416.2 55.1,411.4 C53,406.7 53.1,387.4 55.1,382.6Z" fill="#00ff80"/>
<path d="M55.1,389.1 C57,386.9 63.9,389.1 66.3,389.3 C68.7,389.5 68.7,389.5 69.7,390.3 C70.7,391.2 72.2,392.9 72.3,394.6 C72.4,396.3 71.4,399.3 70.6,400.6 C69.7,402 69.7,402.2 67.2,402.5 C64.6,402.9 57.1,404.9 55.1,402.7 C53.1,400.5 53.3,391.4 55.1,389.1Z" fill="#00ffdc"/>
<path d="M77.5,433.2 C79.9,427.4 79.7,435 81.7,435.8 C83.7,436.7 86.5,437.7 89.5,438.4 C92.5,439.1 96.3,440 99.8,440.1 C103.2,440.2 106.9,439.8 110,439.2 C113.2,438.7 115.5,437.7 118.6,436.7 C121.8,435.7 125.2,434.2 128.9,433.2 C132.6,432.2 136.9,431.4 140.9,430.7 C144.9,429.9 149.8,429.7 152.9,428.9 C156.1,428.2 158.4,427.7 159.8,426.4 C161.2,425.1 161.7,423.5 161.5,421.2 C161.4,418.9 159.7,415.8 158.9,412.6 C158.2,409.5 157.3,405.8 157.2,402.4 C157.1,398.9 157.6,394.8 158.4,392.1 C159.3,389.3 160.7,387.6 162.4,386.1 C164,384.5 165.4,383.5 168.4,382.6 C171.4,381.8 177.2,374.2 180.4,380.9 C183.5,387.6 186.1,407.9 187.3,422.9 C188.4,438 207.3,463 187.3,471 C167.2,479 85.5,477.3 67.2,471 C48.9,464.7 75,439.1 77.5,433.2Z" fill="#00ff80"/>
<path d="M180.4,385.2 C178.8,380 173.2,385.6 171,386.1 C168.7,386.5 168.1,386.6 166.7,387.8 C165.2,388.9 163.4,390.8 162.4,392.9 C161.4,395.1 160.7,397.9 160.7,400.6 C160.7,403.4 161.4,406.9 162.4,409.2 C163.4,411.5 165.2,413.2 166.7,414.4 C168.1,415.5 168.7,415.8 171,416.2 C173.2,416.7 178.8,422.1 180.4,416.9 C182,411.8 182,390.3 180.4,385.2Z" fill="#00ffdc"/>
<path d="M180.4,389 C179.1,385.9 174.7,389.1 172.7,389.5 C170.7,389.9 169.5,390.1 168.4,391.2 C167.2,392.3 166.1,394.2 165.8,396.3 C165.5,398.5 166,402.2 166.7,404.1 C167.4,405.9 167.8,406.9 170.1,407.5 C172.4,408.1 178.7,410.9 180.4,407.8 C182.1,404.8 181.7,392 180.4,389Z" fill="#00c8ff"/>
<path d="M91.2,447 C92.5,443.1 93.2,448 95.5,447.8 C97.8,447.7 101.9,446.8 104.9,446.1 C107.9,445.4 110.6,444.9 113.5,443.9 C116.3,442.9 118.9,441.2 122.1,440.1 C125.2,439 128.6,437.9 132.4,437 C136.1,436.2 140.6,435.5 144.4,435 C148.1,434.4 151.5,434.2 154.7,433.6 C157.8,433 158.9,432.4 163.2,431.5 C167.5,430.6 176.4,423.8 180.4,428.1 C184.4,432.4 186.1,450.1 187.3,457.3 C188.4,464.4 203.8,468.7 187.3,471 C170.7,473.3 103.8,475 87.7,471 C71.7,467 89.9,450.8 91.2,447Z" fill="#00ffdc"/>
<path d="M118.6,455.5 C119.1,452.5 119.7,453.7 120,452.5 C120.3,451.2 119.9,449.2 120.7,447.8 C121.5,446.4 122.7,445 124.6,443.9 C126.6,442.7 129.4,441.7 132.4,441 C135.4,440.2 139.2,439.7 142.6,439.2 C146.1,438.8 149.9,438.5 152.9,438 C155.9,437.6 156.1,437.4 160.7,436.3 C165.2,435.2 176,428 180.4,431.5 C184.8,435 186.1,450.7 187.3,457.3 C188.4,463.8 199,468.7 187.3,471 C175.5,473.3 128.3,473.6 116.9,471 C105.5,468.4 118.1,458.6 118.6,455.5Z" fill="#00c8ff"/>
</g>
<ellipse cx="119.5" cy="395" rx="53" ry="58.5" fill="none" stroke="#000"/>
<ellipse cx="212" cy="395" rx="8.5" ry="14" fill="#f4c2c2" stroke="#000"/>
<ellipse cx="315" cy="395" rx="8.5" ry="14" fill="#f4c2c2" stroke="#000"/>
<path d="M256.5,338 C257.5,336.5 258,335 258.5,333 C259.5,329.5 261,327.5 263,327.5 C265,327.5 266.5,329.5 267.5,333 C268,335 268.5,336.5 269.5,338Z" fill="#f4c2c2" stroke="#000"/>
<clipPath id="c6"><ellipse cx="263.5" cy="395" rx="53" ry="58.5"/></clipPath>
<g clip-path="url(#c6)">
<rect x="206" y="333" width="114" height="124" fill="#00ff00"/>
<path d="M245.5,351.7 C247.8,350.6 251.3,350.9 254,350.9 C256.8,350.9 259.9,350.7 261.8,351.7 C263.6,352.7 264.5,354.2 265.2,356.9 C265.9,359.6 265.8,364.5 266.1,368 C266.3,371.6 267.2,375.2 266.9,378.3 C266.6,381.5 265.9,384.3 264.3,386.9 C262.8,389.5 259.8,391.8 257.5,393.8 C255.2,395.8 252.9,398.1 250.6,398.9 C248.3,399.8 245.5,400.1 243.8,398.9 C242,397.8 240.8,395.2 240,392.1 C239.1,388.9 238.8,384.1 238.6,380 C238.4,376 238.7,371.8 239,368 C239.2,364.3 238.9,360.5 240,357.7 C241.1,355 243.1,352.9 245.5,351.7Z" fill="#80ff00"/>
<path d="M252.3,366 C253.4,366.2 255.4,366.8 256.1,368 C256.8,369.2 257,371.6 256.6,373.2 C256.3,374.8 255.1,376.6 254,377.5 C253,378.3 251.4,378.8 250.3,378.3 C249.2,377.9 247.9,376.3 247.5,374.9 C247.2,373.5 247.7,371.1 248,369.8 C248.4,368.4 249,367.3 249.8,366.7 C250.5,366 251.3,365.8 252.3,366Z" fill="#dcff00"/>
<path d="M275.5,393.8 C276,392.9 277.7,392.1 278.9,392.1 C280.2,392 282,392.7 282.9,393.4 C283.7,394.1 284.2,395.4 284.1,396.3 C283.9,397.3 282.8,398.8 281.8,399.3 C280.8,399.8 279.1,399.6 278.1,399.3 C277,398.9 276.1,398.1 275.7,397.2 C275.2,396.3 275,394.6 275.5,393.8Z" fill="#80ff00"/>
<path d="M199.1,370.8 C201.9,354.1 211.6,370.8 215.4,370.6 C219.3,370.4 220.3,369.1 222.3,369.4 C224.3,369.7 226.1,370.4 227.5,372.3 C228.8,374.2 229.8,377.3 230.4,380.9 C231,384.5 230.7,389.6 231.1,393.8 C231.4,397.9 231.6,402.1 232.4,405.8 C233.3,409.5 234.2,413 236,416.1 C237.9,419.2 240.7,422.6 243.4,424.3 C246.1,426 249.1,426.5 252.3,426.4 C255.5,426.2 259.3,424.7 262.6,423.3 C266,421.9 269.5,419.2 272.6,417.8 C275.7,416.4 278.3,415.9 281.2,414.9 C284,413.8 287.6,412.7 289.7,411.4 C291.9,410.2 292.9,408.7 294,407.2 C295.1,405.6 295.8,404.2 296.3,402 C296.7,399.8 297.2,396.8 296.9,393.8 C296.7,390.7 296,386.3 294.9,383.8 C293.7,381.3 292,380.1 290.1,378.7 C288.2,377.2 285.3,376.7 283.6,375.2 C281.8,373.8 280.3,372 279.8,370.1 C279.3,368.2 279.8,365.7 280.6,364.1 C281.5,362.5 283,361.3 284.9,360.7 C286.8,360.1 289.8,359.9 292.1,360.5 C294.5,361 296.9,362.8 299,363.9 C301.1,365.1 302.9,366.8 304.7,367.4 C306.4,367.9 306,367.2 309.3,367 C312.6,366.8 320.7,359.9 324.4,366.3 C328.1,372.8 330.1,388.3 331.3,405.8 C332.4,423.2 353.3,460.1 331.3,471 C309.2,481.8 221.2,487.7 199.1,471 C177.1,454.3 196.4,387.5 199.1,370.8Z" fill="#00ff80"/>
<path d="M199.1,373.7 C201.7,357.5 211,373.7 214.6,373.5 C218.2,373.4 218.9,372.4 220.6,372.8 C222.3,373.3 223.8,374.4 224.9,376.3 C226,378.2 226.7,381.1 227.1,384.3 C227.6,387.5 227.4,391.6 227.6,395.5 C227.9,399.4 228,403.6 228.7,407.5 C229.3,411.4 230.1,415.4 231.7,418.7 C233.3,421.9 235.8,425.1 238.3,427.2 C240.7,429.4 243.7,430.7 246.3,431.5 C249,432.3 251.1,432.5 254,431.9 C257,431.2 260.5,429.4 264,427.7 C267.5,426.1 271.9,423.4 275.2,421.7 C278.4,420.1 281,418.9 283.7,417.8 C286.4,416.7 289.4,416.1 291.5,414.9 C293.5,413.7 294.9,412.3 296.1,410.6 C297.2,408.9 297.7,406.9 298.3,404.6 C299,402.3 299.5,399.3 300,396.9 C300.6,394.4 301.5,391.9 301.7,390 C301.9,388.1 300.9,386.9 301.2,385.2 C301.6,383.5 302.5,381.5 303.8,380 C305.1,378.6 307.2,377.2 309,376.3 C310.7,375.4 311.5,375 314.1,374.6 C316.7,374.1 321.5,368.3 324.4,373.5 C327.3,378.7 330.1,389.5 331.3,405.8 C332.4,422 353.3,460.1 331.3,471 C309.2,481.8 221.2,487.2 199.1,471 C177.1,454.8 196.6,389.9 199.1,373.7Z" fill="#00ffdc"/>
<path d="M199.1,376.8 C201.5,361.1 210.1,376.7 213.2,376.6 C216.4,376.5 216.6,375.7 218,376.3 C219.4,376.8 220.6,378 221.5,380 C222.3,382.1 222.8,385.8 223.2,388.6 C223.5,391.5 223.2,393.8 223.5,397.2 C223.8,400.6 224.2,405.4 224.9,409.2 C225.6,413.1 226.4,416.9 227.8,420.4 C229.2,423.8 231.2,427.1 233.5,429.8 C235.7,432.5 238.3,435 241.2,436.7 C244,438.4 247.9,439.5 250.6,440.1 C253.3,440.7 255.3,440.3 257.5,440.1 C259.7,439.9 261.5,440 264,438.9 C266.5,437.8 269.7,435.3 272.6,433.8 C275.4,432.2 278.6,430.6 281.2,429.5 C283.7,428.3 285.9,427.5 288,426.9 C290.2,426.3 292,426 294,425.7 C296,425.4 298.3,425.4 300,425.2 C301.7,424.9 303.1,424.9 304.3,424.3 C305.5,423.7 306.9,422.4 307.2,421.6 C307.5,420.7 306.7,420.4 306,419.2 C305.4,417.9 304,416 303.5,414 C302.9,412 302.6,409.7 302.6,407.2 C302.6,404.6 303,401.4 303.5,398.6 C303.9,395.7 304.8,392.1 305.2,390 C305.5,387.9 304.9,387.5 305.5,386.1 C306.1,384.6 307.2,382.7 308.6,381.4 C310,380.2 311.5,379.3 314.1,378.7 C316.7,378 321.5,373 324.4,377.5 C327.3,382 330.1,390.2 331.3,405.8 C332.4,421.4 353.3,460.1 331.3,471 C309.2,481.8 221.2,486.7 199.1,471 C177.1,455.3 196.8,392.5 199.1,376.8Z" fill="#00c8ff"/>
<path d="M199.1,380 C201.3,373.8 209.2,380 212,380 C214.9,380.1 215.1,379.7 216.3,380.4 C217.5,381.1 218.7,382.4 219.4,384.3 C220,386.3 220.2,389.3 220.2,392.1 C220.3,394.8 220.1,397.8 219.7,400.6 C219.4,403.5 218.7,406.8 218,409.2 C217.3,411.6 216.4,413.8 215.4,415.2 C214.4,416.6 214.7,417 212,417.5 C209.3,417.9 201.3,424 199.1,417.8 C197,411.6 197,386.3 199.1,380Z" fill="#0070ff"/>
<path d="M199.1,389.1 C201,387.1 208,389.1 210.3,389.3 C212.6,389.5 212.2,389.5 212.9,390.3 C213.5,391.2 214,393.1 214.1,394.6 C214.1,396.2 213.8,398.6 213.2,399.8 C212.6,401 213,401.3 210.6,401.7 C208.3,402 201.1,403.9 199.1,401.8 C197.2,399.8 197.3,391.2 199.1,389.1Z" fill="#0000ff"/>
<path d="M324.4,381.8 C323,376.8 318,381.9 315.8,382.1 C313.7,382.3 312.8,382.5 311.5,383.1 C310.2,383.8 308.9,384.9 308.1,386.1 C307.3,387.2 307.2,387.9 306.9,390 C306.5,392.1 305.9,395.9 306,398.6 C306.2,401.3 306.9,404.3 307.8,406.3 C308.6,408.3 310,409.7 311.2,410.6 C312.4,411.5 312.8,411.5 315,411.8 C317.2,412 322.8,417.1 324.4,412.1 C326,407.1 325.8,386.8 324.4,381.8Z" fill="#0070ff"/>
<path d="M324.4,386.6 C323.1,383.7 318.5,386.7 316.7,386.9 C314.8,387.1 314.2,387.4 313.2,387.9 C312.3,388.5 311.6,388.9 311.2,390.3 C310.8,391.8 310.7,394.9 311,396.9 C311.3,398.8 312.1,400.8 312.9,402 C313.7,403.2 313.9,403.6 315.8,403.9 C317.7,404.2 323,407 324.4,404.1 C325.8,401.2 325.7,389.4 324.4,386.6Z" fill="#0000ff"/>
</g>
<ellipse cx="263.5" cy="395" rx="53" ry="58.5" fill="none" stroke="#000"/>
<ellipse cx="356" cy="395" rx="8.5" ry="14" fill="#f4c2c2" stroke="#000"/>
<ellipse cx="459" cy="395" rx="8.5" ry="14" fill="#f4c2c2" stroke="#000"/>
<path d="M400.5,338 C401.5,336.5 402,335 402.5,333 C403.5,329.5 405,327.5 407,327.5 C409,327.5 410.5,329.5 411.5,333 C412,335 412.5,336.5 413.5,338Z" fill="#f4c2c2" stroke="#000"/>
<clipPath id="c7"><ellipse cx="407.5" cy="395" rx="53" ry="58.5"/></clipPath>
<g clip-path="url(#c7)">
<rect x="350" y="333" width="114" height="124" fill="#00ffdc"/>
<path d="M392.9,366.3 C394.6,366.1 396.2,366.3 398,367.2 C399.9,368 402.1,369.8 404.1,371.5 C406.1,373.2 407.9,375.8 410.1,377.5 C412.2,379.2 414.3,380.6 416.9,381.8 C419.5,382.9 422.6,383.6 425.5,384.3 C428.4,385.1 431.5,385.1 434.1,386.1 C436.7,387.1 439.1,388.5 440.9,390.3 C442.8,392.2 443.8,394.9 445.2,397.2 C446.7,399.5 447.9,402.4 449.5,404.1 C451.1,405.8 451.5,406.6 454.7,407.5 C457.8,408.4 465,403.8 468.4,409.2 C471.8,414.6 474.1,429.8 475.3,440.1 C476.4,450.4 486.3,465.8 475.3,471 C464.2,476.1 419.9,474 408.7,471 C397.5,468 408.4,456.6 408,453 C407.6,449.3 407.4,450.3 406.3,449 C405.2,447.7 403.7,446.3 401.5,445.2 C399.2,444.2 396,443.8 392.9,442.7 C389.8,441.5 385.6,440.5 382.6,438.4 C379.6,436.2 376.6,432.7 374.9,429.8 C373.2,426.9 372.6,424.4 372.3,421.2 C372,418.1 372.5,414.6 373.2,410.9 C373.9,407.2 375.5,402.9 376.6,398.9 C377.7,394.9 378.9,390.9 380,386.9 C381.2,382.9 382.2,378 383.5,374.9 C384.8,371.8 386.2,369.8 387.8,368.4 C389.3,367 391.2,366.5 392.9,366.3Z" fill="#00ff80"/>
<path d="M392.9,394.6 C395.3,393.9 399.5,393.3 403.2,392.9 C406.9,392.5 411.2,392.2 415.2,392.1 C419.2,391.9 423.8,391.7 427.2,392.1 C430.6,392.4 433.5,392.7 435.8,394.1 C438.1,395.5 439.4,398.1 440.9,400.6 C442.5,403.2 443.7,406.7 445.2,409.2 C446.8,411.7 447.7,414 450.4,415.7 C453.1,417.5 459.7,417.2 461.5,419.5 C463.4,421.9 463.5,427.7 461.5,429.8 C459.5,431.9 453,431.1 449.5,431.9 C446.1,432.6 444.1,433.5 440.9,434.1 C437.8,434.7 434.1,435.2 430.6,435.3 C427.2,435.4 423.8,435.2 420.4,434.6 C416.9,434 413.5,432.7 410.1,431.5 C406.6,430.3 402.9,428.9 399.8,427.2 C396.6,425.5 393.3,423.5 391.2,421.2 C389,418.9 387.7,416.4 386.9,413.5 C386.1,410.6 386.1,406.7 386.4,404.1 C386.7,401.4 387.5,399.1 388.6,397.5 C389.7,396 390.5,395.4 392.9,394.6Z" fill="#00ff00"/>
<path d="M418.6,349.2 C420.6,348.3 424.4,348 427.2,348 C430.1,348 433.4,348.1 435.8,349.2 C438.2,350.2 440.6,352 441.8,354.3 C443,356.6 443.1,360 443,362.9 C442.9,365.8 442.3,369.2 440.9,371.5 C439.6,373.8 437.2,375.6 434.9,376.6 C432.6,377.6 429.6,377.8 427.2,377.5 C424.8,377.2 422.2,376.3 420.4,374.9 C418.5,373.5 417.1,371.3 416.1,368.9 C415.1,366.5 414.5,362.9 414.3,360.3 C414.2,357.7 414.5,355.3 415.2,353.5 C415.9,351.6 416.6,350.1 418.6,349.2Z" fill="#00c8ff"/>
<path d="M343.1,348.8 C348.4,338.4 369.7,347.4 374.9,349.2 C380.1,350.9 374.7,355.7 374.4,359.5 C374.1,363.2 373.7,367.5 373.2,371.5 C372.7,375.5 372,379.8 371.5,383.5 C370.9,387.2 370.6,390.6 369.7,393.8 C368.9,396.9 367.6,399.9 366.3,402.4 C365,404.8 363.6,406.9 362,408.4 C360.4,409.8 360,410.7 356.9,411.3 C353.7,411.8 345.4,422.2 343.1,411.8 C340.9,401.4 337.9,359.3 343.1,348.8Z" fill="#00c8ff"/>
<path d="M343.1,373.7 C345.6,370.5 354.8,373.6 357.7,374 C360.6,374.5 359.9,375 360.6,376.6 C361.4,378.2 361.9,381.2 362,383.5 C362.1,385.8 361.7,388.6 361.2,390.3 C360.6,392.1 359.6,393.3 358.6,393.8 C357.6,394.2 357.7,393.2 355.2,393.1 C352.6,393 345.1,396.3 343.1,393.1 C341.1,389.9 340.7,376.9 343.1,373.7Z" fill="#0070ff"/>
<path d="M465,387.8 C464.2,386.5 461.1,387.6 460.2,388.3 C459.2,389 459.5,390.9 459.5,392.1 C459.5,393.3 459.2,394.9 460.2,395.5 C461.1,396.1 464.2,397.1 465,395.8 C465.8,394.5 465.8,389 465,387.8Z" fill="#00c8ff"/>
</g>
<ellipse cx="407.5" cy="395" rx="53" ry="58.5" fill="none" stroke="#000"/>
<ellipse cx="500" cy="395" rx="8.5" ry="14" fill="#f4c2c2" stroke="#000"/>
<ellipse cx="603" cy="395" rx="8.5" ry="14" fill="#f4c2c2" stroke="#000"/>
<path d="M544.5,338 C545.5,336.5 546,335 546.5,333 C547.5,329.5 549,327.5 551,327.5 C553,327.5 554.5,329.5 555.5,333 C556,335 556.5,336.5 557.5,338Z" fill="#f4c2c2" stroke="#000"/>
<clipPath id="c8"><ellipse cx="551.5" cy="395" rx="53" ry="58.5"/></clipPath>
<g clip-path="url(#c8)">
<rect x="494" y="333" width="114" height="124" fill="#ffc800"/>
<path d="M497.4,369.4 C500.4,369.5 501.7,369.4 503.4,369.8 C505.2,370.1 506.6,370 507.7,371.5 C508.9,372.9 509.8,375.5 510.3,378.3 C510.8,381.2 510.6,385.2 510.8,388.6 C511,392.1 511,395.2 511.5,398.9 C512,402.6 512.7,407.2 513.7,410.9 C514.8,414.6 516.2,418.1 518,421.2 C519.9,424.4 522.3,427.5 524.9,429.8 C527.5,432.1 530.3,433.9 533.5,435.3 C536.6,436.7 540.3,437.5 543.8,438 C547.2,438.6 550.6,438.6 554.1,438.4 C557.5,438.2 560.9,437.4 564.4,436.7 C567.8,436 571.5,435.2 574.6,434.1 C577.8,432.9 580.8,431.4 583.2,429.8 C585.7,428.2 587.5,426.7 589.2,424.7 C590.9,422.7 592.4,420.4 593.5,417.8 C594.7,415.2 595.5,412.4 596.1,409.2 C596.7,406.1 596.8,402.4 597,398.9 C597.2,395.5 597,392.1 597.3,388.6 C597.6,385.2 598,381 598.7,378.3 C599.3,375.6 600.2,373.7 601.2,372.3 C602.2,371 603.1,370.6 604.7,370.1 C606.2,369.6 608.2,369.5 610.7,369.4 C613.1,369.3 617.8,378.8 619.3,369.4 C620.7,360 641.6,322.5 619.3,313.1 C597,303.8 507.7,303.8 485.4,313.1 C463.1,322.5 483.4,360 485.4,369.4 C487.4,378.8 494.4,369.4 497.4,369.4Z" fill="#dcff00"/>
<path d="M497.4,366.3 C500.7,366.4 503,366.2 505.2,366.7 C507.3,367.1 509,367.2 510.3,368.9 C511.7,370.6 512.6,373.3 513.2,376.6 C513.9,379.9 513.9,384.6 514.3,388.6 C514.6,392.6 514.8,396.6 515.5,400.6 C516.1,404.6 517.1,409.1 518.4,412.6 C519.7,416.2 521.1,419.4 523.2,422.1 C525.3,424.8 528,427.1 530.9,428.9 C533.8,430.8 537,432.4 540.3,433.2 C543.6,434.1 547.2,434.2 550.6,434.1 C554.1,434 557.5,433.1 560.9,432.4 C564.4,431.7 568.1,430.9 571.2,429.8 C574.4,428.7 577.4,427.2 579.8,425.5 C582.2,423.8 584.1,421.7 585.8,419.5 C587.5,417.4 588.9,415.5 590.1,412.6 C591.2,409.8 592.1,405.8 592.7,402.4 C593.2,398.9 593.2,395.5 593.5,392.1 C593.8,388.6 593.8,384.8 594.4,381.8 C594.9,378.8 596,376 597,374 C598,372.1 598.1,371.1 600.4,370.1 C602.7,369.1 607.5,368.4 610.7,368 C613.8,367.7 617.8,377.2 619.3,368 C620.7,358.9 641.6,322.3 619.3,313.1 C597,304 507.7,304.3 485.4,313.1 C463.1,322 483.4,357.5 485.4,366.3 C487.4,375.2 494.2,366.3 497.4,366.3Z" fill="#80ff00"/>
<path d="M497.4,363.2 C501,363.3 504.3,363.2 506.9,363.8 C509.5,364.3 511.3,364.8 512.9,366.7 C514.5,368.5 515.5,371.2 516.3,374.9 C517.1,378.6 517.3,384.3 517.7,388.6 C518.1,392.9 518.2,396.8 518.9,400.6 C519.6,404.5 520.5,408.5 521.8,411.8 C523.1,415.1 524.9,418 527,420.4 C529,422.7 531.8,424.6 534.3,426 C536.8,427.5 539.3,428.3 542,428.9 C544.8,429.6 547.6,429.9 550.6,429.8 C553.6,429.7 556.9,429.1 560.1,428.4 C563.2,427.7 566.6,426.7 569.5,425.5 C572.4,424.3 574.9,422.9 577.2,421.2 C579.5,419.5 581.6,417.5 583.2,415.2 C584.9,412.9 586,410.5 587,407.5 C588,404.5 588.7,400.6 589.2,397.2 C589.8,393.8 589.9,390.2 590.4,386.9 C590.9,383.6 591.3,380.2 592.1,377.5 C592.9,374.8 594,372.4 595.2,370.6 C596.5,368.8 597,367.6 599.5,366.7 C602.1,365.7 607.4,365.2 610.7,365 C614,364.7 617.8,373.6 619.3,365 C620.7,356.3 641.6,321.8 619.3,313.1 C597,304.5 507.7,304.8 485.4,313.1 C463.1,321.5 483.4,354.9 485.4,363.2 C487.4,371.6 493.9,363.1 497.4,363.2Z" fill="#00ff00"/>
<path d="M497.4,360.5 C501.4,360.5 506.1,360.3 509.1,360.8 C512.1,361.4 513.7,362 515.5,363.8 C517.2,365.5 518.7,368.2 519.7,371.5 C520.8,374.8 521.2,379.5 521.8,383.5 C522.4,387.5 522.5,391.8 523.2,395.5 C523.8,399.2 524.5,402.6 525.8,405.8 C527,408.9 528.8,412.1 530.9,414.4 C533,416.7 535.9,418.4 538.6,419.5 C541.3,420.7 544.3,421.1 547.2,421.2 C550.1,421.4 552.9,420.9 555.8,420.4 C558.6,419.8 561.5,418.9 564.4,417.8 C567.2,416.7 570.5,415.2 572.9,413.5 C575.4,411.8 577.2,409.9 578.9,407.5 C580.7,405.1 582.1,402.1 583.2,398.9 C584.3,395.8 584.8,392.1 585.5,388.6 C586.1,385.2 586.2,381.5 587,378.3 C587.8,375.2 588.9,372.1 590.1,369.8 C591.3,367.4 592.9,365.6 594.4,364.3 C595.8,362.9 596,362.4 598.7,361.9 C601.4,361.3 607.2,361 610.7,360.8 C614.1,360.7 617.8,368.8 619.3,360.8 C620.7,352.9 641.6,321.1 619.3,313.1 C597,305.2 507.7,305.2 485.4,313.1 C463.1,321 483.4,352.6 485.4,360.5 C487.4,368.4 493.5,360.4 497.4,360.5Z" fill="#00ff80"/>
<path d="M497.4,357.4 C501.8,357.5 508.1,357.3 511.5,357.7 C514.9,358.2 516.1,358.7 518,360.3 C520,361.9 521.8,364.2 523.2,367.2 C524.5,370.2 525.5,374.8 526.3,378.3 C527.1,381.9 527.2,385.5 528,388.6 C528.8,391.8 529.4,394.8 530.9,397.2 C532.4,399.6 534.5,401.8 536.9,403.2 C539.3,404.6 542.6,405.4 545.5,405.8 C548.3,406.2 551.2,406.1 554.1,405.8 C556.9,405.5 559.8,404.9 562.6,404.1 C565.5,403.2 568.8,402.1 571.2,400.6 C573.6,399.2 575.6,397.6 577.2,395.5 C578.9,393.3 580.2,390.6 581.2,387.8 C582.2,384.9 582.5,381.5 583.2,378.3 C584,375.2 584.7,371.6 585.8,368.9 C586.9,366.2 588.5,363.7 590.1,362 C591.7,360.3 592.1,359.5 595.6,358.8 C599,358 606.7,357.6 610.7,357.4 C614.6,357.2 617.8,364.8 619.3,357.4 C620.7,350 641.6,320.5 619.3,313.1 C597,305.8 507.7,305.8 485.4,313.1 C463.1,320.5 483.4,350 485.4,357.4 C487.4,364.8 493.1,357.3 497.4,357.4Z" fill="#00ffdc"/>
<path d="M497.4,354.7 C502.2,354.7 509.9,354.8 513.7,355.2 C517.6,355.5 518.3,355.7 520.6,356.9 C522.9,358 525.3,360.2 527.5,362 C529.6,363.9 531.3,366.9 533.5,368 C535.6,369.2 537.9,369 540.3,368.9 C542.8,368.8 545.8,367.2 548.1,367.2 C550.3,367.2 552.3,367.6 554.1,368.9 C555.8,370.2 557.2,372.8 558.3,374.9 C559.5,377 559.6,379.8 560.9,381.8 C562.2,383.8 564.2,385.9 566.1,386.9 C567.9,387.9 570.2,388.2 572.1,387.8 C573.9,387.3 575.8,386.1 577.2,384.3 C578.7,382.6 579.7,380.2 580.7,377.5 C581.7,374.8 582.2,370.9 583.2,368 C584.2,365.2 585.2,362.4 586.7,360.3 C588.1,358.3 588.1,356.7 592.1,355.7 C596.2,354.6 606.2,354.3 610.7,354 C615.2,353.7 617.8,360.8 619.3,354 C620.7,347.2 641.6,319.9 619.3,313.1 C597,306.3 507.7,306.2 485.4,313.1 C463.1,320.1 483.4,347.7 485.4,354.7 C487.4,361.6 492.7,354.6 497.4,354.7Z" fill="#00c8ff"/>
<path d="M497.4,350.9 C502.7,350.9 512.6,350.9 517.2,351.2 C521.7,351.5 522.2,352.2 524.9,352.6 C527.6,353 530.6,353.6 533.5,353.5 C536.3,353.3 539.2,352.2 542,351.7 C544.9,351.3 548.3,350.5 550.6,350.9 C552.9,351.3 554.6,352.3 555.8,354.3 C556.9,356.3 556.9,359.7 557.5,362.9 C558.1,366 558.2,370.3 559.2,373.2 C560.2,376 561.8,378.3 563.5,380 C565.2,381.8 567.6,383.2 569.5,383.5 C571.4,383.8 573.2,383.1 574.6,381.8 C576.1,380.5 577.2,378 578.1,375.8 C579,373.5 579.4,370.8 580.1,368 C580.9,365.3 581.3,361.7 582.4,359.5 C583.5,357.2 585.4,355.5 586.7,354.3 C587.9,353.2 585.7,353.2 589.7,352.6 C593.7,352 605.8,351.2 610.7,350.9 C615.6,350.6 617.8,357.2 619.3,350.9 C620.7,344.6 641.6,319.4 619.3,313.1 C597,306.8 507.7,306.8 485.4,313.1 C463.1,319.4 483.4,344.6 485.4,350.9 C487.4,357.2 492.2,350.8 497.4,350.9Z" fill="#0070ff"/>
<path d="M569.5,357.7 C570.8,357.5 572.7,357.6 573.8,358.6 C574.9,359.6 575.7,361.7 576,363.8 C576.3,365.8 576.2,368.6 575.5,370.6 C574.8,372.6 573.4,374.9 572.1,375.8 C570.8,376.6 569,376.5 567.8,375.8 C566.6,375 565.3,373.2 564.7,371.5 C564.1,369.8 563.8,367.3 564,365.5 C564.2,363.6 565.2,361.6 566.1,360.3 C567,359 568.2,358 569.5,357.7Z" fill="#0000ff"/>
<path d="M507.7,435 C510.2,429.2 511.5,435.8 513.7,436.7 C516,437.5 518.5,439.2 521.5,440.1 C524.5,441 528.3,441.7 531.8,442.2 C535.2,442.6 538.3,442.8 542,442.7 C545.8,442.6 550.1,442 554.1,441.5 C558.1,440.9 562.1,440.2 566.1,439.2 C570.1,438.3 574.6,437 578.1,435.8 C581.5,434.7 584.4,433.4 586.7,432.4 C588.9,431.4 590.1,430.9 591.8,429.8 C593.5,428.7 593.5,427.2 597,426 C600.4,424.9 608.7,417.7 612.4,422.9 C616.1,428.1 618.1,449.2 619.3,457.3 C620.4,465.3 639.3,468.7 619.3,471 C599.2,473.3 517.7,477 499.2,471 C480.6,465 505.3,440.7 507.7,435Z" fill="#ff7000"/>
<path d="M612.4,387.3 C611.1,383.5 606.5,387.4 604.7,387.8 C602.8,388.1 602.2,388.2 601.2,389.5 C600.2,390.8 599.1,393.3 598.7,395.5 C598.2,397.6 598.3,400.2 598.7,402.4 C599,404.5 599.7,407 600.7,408.4 C601.7,409.7 602.7,409.9 604.7,410.2 C606.6,410.6 611.1,414.4 612.4,410.6 C613.7,406.8 613.7,391.1 612.4,387.3Z" fill="#ff7000"/>
<path d="M495.7,385.7 C496.2,385.2 497.8,385.8 498.6,386.1 C499.5,386.3 500.6,386.9 500.7,387.4 C500.8,388 500.2,389 499.3,389.3 C498.5,389.6 496.3,389.9 495.7,389.3 C495.1,388.7 495.2,386.3 495.7,385.7Z" fill="#ff7000"/>
</g>
<ellipse cx="551.5" cy="395" rx="53" ry="58.5" fill="none" stroke="#000"/>
<ellipse cx="644" cy="395" rx="8.5" ry="14" fill="#f4c2c2" stroke="#000"/>
<ellipse cx="747" cy="395" rx="8.5" ry="14" fill="#f4c2c2" stroke="#000"/>
<path d="M688.5,338 C689.5,336.5 690,335 690.5,333 C691.5,329.5 693,327.5 695,327.5 C697,327.5 698.5,329.5 699.5,333 C700,335 700.5,336.5 701.5,338Z" fill="#f4c2c2" stroke="#000"/>
<clipPath id="c9"><ellipse cx="695.5" cy="395" rx="53" ry="58.5"/></clipPath>
<g clip-path="url(#c9)">
<rect x="638" y="333" width="114" height="124" fill="#ff0000"/>
<path d="M636.3,429.8 C640.3,429.8 648.9,429.7 653.5,429.8 C658,429.9 660,430.1 663.7,430.7 C667.5,431.2 671.8,432.5 675.8,433.2 C679.8,434 684,434.6 687.8,435 C691.5,435.3 694.6,435.4 698.1,435.3 C701.5,435.2 704.9,434.7 708.4,434.1 C711.8,433.5 715.2,432.7 718.6,431.5 C722.1,430.4 725.8,428.7 728.9,427.2 C732.1,425.8 735.1,424 737.5,422.9 C740,421.9 739.8,421.5 743.5,420.9 C747.2,420.3 756.5,419.7 759.8,419.5 C763.1,419.3 762.7,437.2 763.3,419.5 C763.8,401.8 785.6,330.9 763.3,313.1 C741,295.4 651.7,293.7 629.4,313.1 C607.1,332.6 628.3,410.4 629.4,429.8 C630.6,449.2 632.3,429.8 636.3,429.8Z" fill="#ff7000"/>
<path d="M636.3,419.5 C639.4,419.5 644.9,419.5 648.3,419.5 C651.7,419.5 653.5,419.2 656.9,419.5 C660.3,419.8 664.9,420.5 668.9,421.2 C672.9,421.9 676.9,423.1 680.9,423.8 C684.9,424.5 689.2,425.3 692.9,425.5 C696.6,425.7 699.5,425.6 703.2,425 C706.9,424.4 711.5,423.3 715.2,422.1 C718.9,420.9 722.4,419.1 725.5,417.8 C728.7,416.5 731.5,415.2 734.1,414.4 C736.7,413.5 738.8,413 741,412.6 C743.1,412.3 743.8,412.4 747,412.3 C750.1,412.2 757.1,412.3 759.8,412.3 C762.5,412.3 762.7,428.8 763.3,412.3 C763.8,395.8 785.6,329.7 763.3,313.1 C741,296.6 651.7,295.4 629.4,313.1 C607.1,330.9 628.3,401.8 629.4,419.5 C630.6,437.2 633.1,419.5 636.3,419.5Z" fill="#ffc800"/>
<path d="M636.3,407.5 C638.8,407.5 641.7,407.4 644.5,407.5 C647.4,407.6 650,407.6 653.5,408.4 C656.9,409.1 661.5,410.6 665.5,411.8 C669.5,412.9 673.5,414.4 677.5,415.2 C681.5,416.1 685.5,416.7 689.5,416.9 C693.5,417.2 697.5,417.4 701.5,416.9 C705.5,416.5 709.8,415.4 713.5,414.4 C717.2,413.4 720.6,412.1 723.8,410.9 C726.9,409.8 729.5,408.4 732.4,407.5 C735.2,406.6 738.3,406.1 741,405.8 C743.6,405.5 745,405.6 748.2,405.6 C751.3,405.6 757.3,405.6 759.8,405.6 C762.3,405.6 762.7,421 763.3,405.6 C763.8,390.2 785.6,328.5 763.3,313.1 C741,297.7 651.7,297.4 629.4,313.1 C607.1,328.9 628.3,391.8 629.4,407.5 C630.6,423.2 633.8,407.5 636.3,407.5Z" fill="#dcff00"/>
<path d="M636.3,361.2 C640,361.3 648.3,361.5 651.7,362 C655.2,362.6 655.6,363 656.9,364.6 C658.2,366.2 659.2,368.6 659.5,371.5 C659.7,374.3 659,378.3 658.6,381.8 C658.2,385.2 657,389.2 656.9,392.1 C656.7,394.9 656.7,396.9 657.7,398.9 C658.7,400.9 660.5,402.8 662.9,404.1 C665.3,405.4 669,405.8 672.3,406.6 C675.6,407.5 678.9,408.6 682.6,409.2 C686.3,409.8 690.9,410.1 694.6,410.1 C698.3,410.1 701.5,409.8 704.9,409.2 C708.4,408.6 711.8,407.6 715.2,406.6 C718.6,405.6 722.5,404.6 725.5,403.2 C728.5,401.8 731.2,400.1 733.2,398.1 C735.2,396.1 736.4,393.9 737.5,391.2 C738.7,388.5 739.3,384.8 740.1,381.8 C740.9,378.8 741.6,375.2 742.3,373.2 C743.1,371.2 741.8,370.6 744.7,369.8 C747.6,369 756.7,368.6 759.8,368.4 C762.9,368.2 762.7,377.6 763.3,368.4 C763.8,359.2 785.6,322.3 763.3,313.1 C741,303.9 651.7,305.1 629.4,313.1 C607.1,321.1 628.3,353.2 629.4,361.2 C630.6,369.2 632.6,361 636.3,361.2Z" fill="#80ff00"/>
<path d="M636.3,359.5 C640.3,359.5 649.6,359.2 653.5,359.8 C657.3,360.4 657.9,361.1 659.5,362.9 C661,364.7 662.2,367.8 662.9,370.6 C663.5,373.5 663.2,377 663.4,380 C663.6,383.1 663.5,386.1 664.1,388.6 C664.7,391.2 665.5,393.6 667.2,395.5 C668.8,397.3 671.2,398.6 674,399.8 C676.9,400.9 680.9,401.8 684.3,402.4 C687.8,402.9 691.2,403.4 694.6,403.2 C698.1,403.1 701.5,402.4 704.9,401.5 C708.4,400.6 712.2,399.4 715.2,398.1 C718.2,396.8 720.8,395.5 722.9,393.8 C725.1,392.1 726.7,390.2 728.1,387.8 C729.5,385.3 730.7,382.2 731.5,379.2 C732.4,376.2 732.5,372.6 733.2,369.8 C733.9,366.9 734.7,363.9 735.8,362 C736.9,360.1 735.6,359.3 739.6,358.4 C743.6,357.6 755.9,357.1 759.8,356.9 C763.8,356.6 762.7,364.2 763.3,356.9 C763.8,349.6 785.6,320.4 763.3,313.1 C741,305.8 651.7,305.4 629.4,313.1 C607.1,320.9 628.3,351.7 629.4,359.5 C630.6,367.2 632.3,359.4 636.3,359.5Z" fill="#00ff00"/>
<path d="M636.3,351.7 C641.3,351.9 654.6,351.7 659.5,352.6 C664.3,353.5 663.3,355.3 665.5,356.9 C667.6,358.5 669.8,360.9 672.3,362 C674.9,363.2 678.3,363.9 680.9,363.8 C683.5,363.6 685.5,361.6 687.8,361.2 C690.1,360.7 692.6,360.5 694.6,361.2 C696.6,361.9 698.2,363.5 699.8,365.5 C701.3,367.5 702.6,370.9 704.1,373.2 C705.5,375.5 706.5,377.9 708.4,379.2 C710.2,380.5 713.1,381.2 715.2,380.9 C717.4,380.6 719.5,379.3 721.2,377.5 C722.9,375.6 724.2,372.5 725.5,369.8 C726.8,367 727.7,363.6 728.9,361.2 C730.2,358.7 731.9,356.5 733.2,355.2 C734.5,353.8 732.2,353.5 736.7,352.9 C741.1,352.4 755.4,351.9 759.8,351.7 C764.3,351.5 762.7,358.2 763.3,351.7 C763.8,345.3 785.6,319.6 763.3,313.1 C741,306.7 651.7,306.7 629.4,313.1 C607.1,319.6 628.3,345.3 629.4,351.7 C630.6,358.2 631.3,351.6 636.3,351.7Z" fill="#00ff80"/>
<path d="M636.3,346.6 C642.3,346.7 659.7,346.9 665.5,347.5 C671.2,348 668.6,349.3 670.6,350 C672.6,350.7 674.9,351.6 677.5,351.7 C680,351.9 683.2,351.5 686,350.9 C688.9,350.3 692.1,348.6 694.6,348.3 C697.2,348 699.7,348.2 701.5,349.2 C703.3,350.2 704.3,352 705.3,354.3 C706.3,356.6 706.6,360.2 707.5,362.9 C708.4,365.6 709.5,368.9 710.9,370.6 C712.4,372.3 714.5,373.3 716.1,373.2 C717.6,373 719.2,371.6 720.4,369.8 C721.5,367.9 722.2,364.6 722.9,362 C723.7,359.5 723.9,356.5 724.7,354.3 C725.4,352.2 726.4,350.4 727.2,349.2 C728.1,348 724.4,347.7 729.8,347.1 C735.2,346.5 754.2,346 759.8,345.7 C765.4,345.5 762.7,351.2 763.3,345.7 C763.8,340.3 785.6,318.6 763.3,313.1 C741,307.7 651.7,307.6 629.4,313.1 C607.1,318.7 628.3,341 629.4,346.6 C630.6,352.2 630.3,346.5 636.3,346.6Z" fill="#00ffdc"/>
<path d="M631.1,369.4 C633.9,366.2 644,369.6 647.4,369.8 C650.9,370 650.7,369.6 651.7,370.6 C652.8,371.6 653.7,373.8 653.8,375.8 C653.9,377.8 653.5,380.6 652.6,382.6 C651.7,384.6 649.7,386.7 648.3,387.8 C646.9,388.8 646.9,388.6 644,388.8 C641.2,389 633.3,392.2 631.1,389 C629,385.7 628.4,372.6 631.1,369.4Z" fill="#ffc800"/>
</g>
<ellipse cx="695.5" cy="395" rx="53" ry="58.5" fill="none" stroke="#000"/>
<ellipse cx="66" cy="567" rx="7.5" ry="14" fill="#f4c2c2" stroke="#000"/>
<ellipse cx="171" cy="567" rx="7.5" ry="14" fill="#f4c2c2" stroke="#000"/>
<path d="M111.5,510 C112.5,508.5 113,507 113.5,505 C114.5,501.5 116,499.5 118,499.5 C120,499.5 121.5,501.5 122.5,505 C123,507 123.5,508.5 124.5,510Z" fill="#f4c2c2" stroke="#000"/>
<ellipse cx="118.5" cy="567" rx="54" ry="58.5" fill="#f4c2c2" stroke="#000"/>
<line x1="96" y1="542" x2="118" y2="543" stroke="#0000ff" stroke-width="1"/>
<line x1="118" y1="543" x2="140" y2="542" stroke="#ff0000" stroke-width="3"/>
<line x1="92" y1="567" x2="140" y2="542" stroke="#ff0000" stroke-width="3"/>
<line x1="118" y1="567" x2="140" y2="542" stroke="#ff0000" stroke-width="2"/>
<line x1="144" y1="567" x2="140" y2="542" stroke="#ff0000" stroke-width="2"/>
<line x1="140" y1="542" x2="158" y2="539" stroke="#ff0000" stroke-width="1"/>
<line x1="140" y1="542" x2="165" y2="567" stroke="#ff0000" stroke-width="1"/>
<line x1="140" y1="542" x2="158" y2="594" stroke="#ff0000" stroke-width="1"/>
<line x1="78" y1="594" x2="140" y2="542" stroke="#ff0000" stroke-width="1"/>
<path d="M96,591 Q133,570 140,542" fill="none" stroke="#ff0000" stroke-width="1"/>
<use href="#e6" x="99" y="515"/>
<use href="#e6" x="131" y="515"/>
<use href="#e6" x="75" y="536"/>
<use href="#e6" x="93" y="539"/>
<use href="#e6" x="115" y="540"/>
<use href="#e6" x="137" y="539"/>
<use href="#e6" x="155" y="536"/>
<use href="#e6" x="68" y="564"/>
<use href="#e6" x="89" y="564"/>
<use href="#e6" x="115" y="564"/>
<use href="#e6" x="141" y="564"/>
<use href="#e6" x="162" y="564"/>
<use href="#e6" x="75" y="591"/>
<use href="#e6" x="93" y="588"/>
<use href="#e6" x="115" y="587"/>
<use href="#e6" x="137" y="588"/>
<use href="#e6" x="155" y="591"/>
<use href="#e6" x="99" y="612"/>
<use href="#e6" x="131" y="612"/>
<ellipse cx="210" cy="567" rx="7.5" ry="14" fill="#f4c2c2" stroke="#000"/>
<ellipse cx="315" cy="567" rx="7.5" ry="14" fill="#f4c2c2" stroke="#000"/>
<path d="M255.5,510 C256.5,508.5 257,507 257.5,505 C258.5,501.5 260,499.5 262,499.5 C264,499.5 265.5,501.5 266.5,505 C267,507 267.5,508.5 268.5,510Z" fill="#f4c2c2" stroke="#000"/>
<ellipse cx="262.5" cy="567" rx="54" ry="58.5" fill="#f4c2c2" stroke="#000"/>
<line x1="215" y1="567" x2="222" y2="539" stroke="#ff0000" stroke-width="1"/>
<line x1="222" y1="539" x2="222" y2="594" stroke="#ff0000" stroke-width="1"/>
<line x1="246" y1="518" x2="222" y2="594" stroke="#ff0000" stroke-width="1"/>
<line x1="240" y1="542" x2="222" y2="594" stroke="#ff0000" stroke-width="1.5"/>
<line x1="284" y1="542" x2="222" y2="594" stroke="#ff0000" stroke-width="1"/>
<line x1="222" y1="594" x2="246" y2="615" stroke="#ff0000" stroke-width="3"/>
<line x1="222" y1="594" x2="278" y2="615" stroke="#ff0000" stroke-width="3"/>
<line x1="262" y1="567" x2="278" y2="615" stroke="#ff0000" stroke-width="1"/>
<line x1="262" y1="590" x2="278" y2="615" stroke="#ff0000" stroke-width="2"/>
<line x1="302" y1="594" x2="278" y2="615" stroke="#ff0000" stroke-width="3"/>
<line x1="236" y1="567" x2="278" y2="615" stroke="#0000ff" stroke-width="1"/>
<line x1="240" y1="591" x2="278" y2="615" stroke="#0000ff" stroke-width="3"/>
<line x1="240" y1="591" x2="246" y2="615" stroke="#0000ff" stroke-width="1"/>
<line x1="246" y1="615" x2="278" y2="615" stroke="#0000ff" stroke-width="1"/>
<line x1="288" y1="567" x2="278" y2="615" stroke="#0000ff" stroke-width="1"/>
<line x1="284" y1="591" x2="278" y2="615" stroke="#0000ff" stroke-width="3"/>
<use href="#e6" x="243" y="515"/>
<use href="#e6" x="275" y="515"/>
<use href="#e6" x="219" y="536"/>
<use href="#e6" x="237" y="539"/>
<use href="#e6" x="259" y="540"/>
<use href="#e6" x="281" y="539"/>
<use href="#e6" x="299" y="536"/>
<use href="#e6" x="212" y="564"/>
<use href="#e6" x="233" y="564"/>
<use href="#e6" x="259" y="564"/>
<use href="#e6" x="285" y="564"/>
<use href="#e6" x="306" y="564"/>
<use href="#e6" x="219" y="591"/>
<use href="#e6" x="237" y="588"/>
<use href="#e6" x="259" y="587"/>
<use href="#e6" x="281" y="588"/>
<use href="#e6" x="299" y="591"/>
<use href="#e6" x="243" y="612"/>
<use href="#e6" x="275" y="612"/>
<ellipse cx="354" cy="567" rx="7.5" ry="14" fill="#f4c2c2" stroke="#000"/>
<ellipse cx="459" cy="567" rx="7.5" ry="14" fill="#f4c2c2" stroke="#000"/>
<path d="M399.5,510 C400.5,508.5 401,507 401.5,505 C402.5,501.5 404,499.5 406,499.5 C408,499.5 409.5,501.5 410.5,505 C411,507 411.5,508.5 412.5,510Z" fill="#f4c2c2" stroke="#000"/>
<ellipse cx="406.5" cy="567" rx="54" ry="58.5" fill="#f4c2c2" stroke="#000"/>
<line x1="406" y1="543" x2="428" y2="591" stroke="#ff0000" stroke-width="1"/>
<line x1="406" y1="567" x2="428" y2="591" stroke="#ff0000" stroke-width="1"/>
<line x1="366" y1="594" x2="428" y2="591" stroke="#ff0000" stroke-width="1.5"/>
<line x1="366" y1="594" x2="390" y2="615" stroke="#ff0000" stroke-width="1"/>
<line x1="366" y1="594" x2="422" y2="615" stroke="#ff0000" stroke-width="1"/>
<path d="M384,542 Q392.3,567.3 428,591" fill="none" stroke="#0000ff" stroke-width="1"/>
<line x1="380" y1="567" x2="428" y2="591" stroke="#0000ff" stroke-width="1"/>
<line x1="428" y1="542" x2="428" y2="591" stroke="#0000ff" stroke-width="1"/>
<line x1="384" y1="591" x2="428" y2="591" stroke="#0000ff" stroke-width="2"/>
<line x1="366" y1="594" x2="446" y2="594" stroke="#0000ff" stroke-width="1"/>
<line x1="384" y1="591" x2="422" y2="615" stroke="#0000ff" stroke-width="1"/>
<line x1="390" y1="615" x2="422" y2="615" stroke="#0000ff" stroke-width="2"/>
<use href="#e6" x="387" y="515"/>
<use href="#e6" x="419" y="515"/>
<use href="#e6" x="363" y="536"/>
<use href="#e6" x="381" y="539"/>
<use href="#e6" x="403" y="540"/>
<use href="#e6" x="425" y="539"/>
<use href="#e6" x="443" y="536"/>
<use href="#e6" x="356" y="564"/>
<use href="#e6" x="377" y="564"/>
<use href="#e6" x="403" y="564"/>
<use href="#e6" x="429" y="564"/>
<use href="#e6" x="450" y="564"/>
<use href="#e6" x="363" y="591"/>
<use href="#e6" x="381" y="588"/>
<use href="#e6" x="403" y="587"/>
<use href="#e6" x="425" y="588"/>
<use href="#e6" x="443" y="591"/>
<use href="#e6" x="387" y="612"/>
<use href="#e6" x="419" y="612"/>
<ellipse cx="498" cy="567" rx="7.5" ry="14" fill="#f4c2c2" stroke="#000"/>
<ellipse cx="603" cy="567" rx="7.5" ry="14" fill="#f4c2c2" stroke="#000"/>
<path d="M543.5,510 C544.5,508.5 545,507 545.5,505 C546.5,501.5 548,499.5 550,499.5 C552,499.5 553.5,501.5 554.5,505 C555,507 555.5,508.5 556.5,510Z" fill="#f4c2c2" stroke="#000"/>
<ellipse cx="550.5" cy="567" rx="54" ry="58.5" fill="#f4c2c2" stroke="#000"/>
<line x1="534" y1="518" x2="510" y2="539" stroke="#0000ff" stroke-width="3"/>
<line x1="534" y1="518" x2="503" y2="567" stroke="#0000ff" stroke-width="3"/>
<line x1="534" y1="518" x2="597" y2="567" stroke="#0000ff" stroke-width="2"/>
<line x1="534" y1="518" x2="524" y2="567" stroke="#0000ff" stroke-width="2"/>
<line x1="566" y1="518" x2="510" y2="539" stroke="#0000ff" stroke-width="3"/>
<line x1="566" y1="518" x2="503" y2="567" stroke="#0000ff" stroke-width="1"/>
<line x1="566" y1="518" x2="528" y2="542" stroke="#0000ff" stroke-width="1"/>
<line x1="566" y1="518" x2="597" y2="567" stroke="#0000ff" stroke-width="2.5"/>
<line x1="566" y1="518" x2="503" y2="567" stroke="#0000ff" stroke-width="3"/>
<line x1="510" y1="539" x2="503" y2="567" stroke="#0000ff" stroke-width="2"/>
<line x1="510" y1="539" x2="524" y2="567" stroke="#0000ff" stroke-width="2"/>
<line x1="510" y1="539" x2="528" y2="542" stroke="#0000ff" stroke-width="3"/>
<line x1="528" y1="542" x2="572" y2="542" stroke="#0000ff" stroke-width="3"/>
<line x1="528" y1="542" x2="503" y2="567" stroke="#0000ff" stroke-width="3"/>
<line x1="528" y1="542" x2="524" y2="567" stroke="#0000ff" stroke-width="3"/>
<line x1="528" y1="542" x2="510" y2="594" stroke="#0000ff" stroke-width="2"/>
<line x1="528" y1="542" x2="528" y2="591" stroke="#0000ff" stroke-width="2"/>
<line x1="528" y1="542" x2="550" y2="567" stroke="#0000ff" stroke-width="3"/>
<line x1="572" y1="542" x2="550" y2="567" stroke="#0000ff" stroke-width="3"/>
<line x1="572" y1="542" x2="597" y2="567" stroke="#0000ff" stroke-width="3"/>
<line x1="572" y1="542" x2="576" y2="567" stroke="#0000ff" stroke-width="3"/>
<line x1="572" y1="542" x2="590" y2="594" stroke="#0000ff" stroke-width="2"/>
<line x1="572" y1="542" x2="572" y2="591" stroke="#0000ff" stroke-width="2"/>
<line x1="590" y1="539" x2="597" y2="567" stroke="#0000ff" stroke-width="1"/>
<line x1="590" y1="539" x2="576" y2="567" stroke="#0000ff" stroke-width="1"/>
<line x1="590" y1="539" x2="590" y2="594" stroke="#0000ff" stroke-width="1"/>
<line x1="524" y1="567" x2="576" y2="567" stroke="#0000ff" stroke-width="3"/>
<line x1="524" y1="567" x2="510" y2="594" stroke="#0000ff" stroke-width="3"/>
<line x1="524" y1="567" x2="528" y2="591" stroke="#0000ff" stroke-width="3"/>
<line x1="524" y1="567" x2="534" y2="615" stroke="#0000ff" stroke-width="3"/>
<line x1="524" y1="567" x2="550" y2="590" stroke="#0000ff" stroke-width="3"/>
<line x1="576" y1="567" x2="590" y2="594" stroke="#0000ff" stroke-width="3"/>
<line x1="576" y1="567" x2="572" y2="591" stroke="#0000ff" stroke-width="3"/>
<line x1="576" y1="567" x2="566" y2="615" stroke="#0000ff" stroke-width="3"/>
<line x1="576" y1="567" x2="550" y2="590" stroke="#0000ff" stroke-width="3"/>
<line x1="528" y1="591" x2="534" y2="615" stroke="#0000ff" stroke-width="3"/>
<line x1="528" y1="591" x2="566" y2="615" stroke="#0000ff" stroke-width="3"/>
<line x1="572" y1="591" x2="566" y2="615" stroke="#0000ff" stroke-width="3"/>
<line x1="572" y1="591" x2="534" y2="615" stroke="#0000ff" stroke-width="3"/>
<line x1="534" y1="615" x2="566" y2="615" stroke="#0000ff" stroke-width="2"/>
<line x1="503" y1="567" x2="510" y2="594" stroke="#0000ff" stroke-width="2"/>
<line x1="503" y1="567" x2="528" y2="591" stroke="#0000ff" stroke-width="1"/>
<line x1="528" y1="591" x2="550" y2="590" stroke="#0000ff" stroke-width="2"/>
<line x1="550" y1="590" x2="572" y2="591" stroke="#0000ff" stroke-width="2"/>
<line x1="597" y1="567" x2="590" y2="594" stroke="#0000ff" stroke-width="2"/>
<line x1="597" y1="567" x2="572" y2="591" stroke="#0000ff" stroke-width="2"/>
<line x1="510" y1="539" x2="528" y2="591" stroke="#0000ff" stroke-width="2"/>
<line x1="590" y1="539" x2="572" y2="591" stroke="#0000ff" stroke-width="1"/>
<line x1="510" y1="539" x2="590" y2="539" stroke="#ff0000" stroke-width="2"/>
<line x1="510" y1="539" x2="550" y2="543" stroke="#ff0000" stroke-width="3"/>
<line x1="550" y1="543" x2="503" y2="567" stroke="#ff0000" stroke-width="3"/>
<line x1="550" y1="543" x2="597" y2="567" stroke="#ff0000" stroke-width="3"/>
<line x1="550" y1="543" x2="510" y2="594" stroke="#ff0000" stroke-width="3"/>
<line x1="550" y1="543" x2="590" y2="594" stroke="#ff0000" stroke-width="3"/>
<line x1="550" y1="543" x2="534" y2="615" stroke="#ff0000" stroke-width="3"/>
<line x1="550" y1="543" x2="566" y2="615" stroke="#ff0000" stroke-width="3"/>
<line x1="550" y1="543" x2="550" y2="590" stroke="#ff0000" stroke-width="2"/>
<line x1="503" y1="567" x2="550" y2="567" stroke="#ff0000" stroke-width="3"/>
<line x1="550" y1="567" x2="510" y2="594" stroke="#ff0000" stroke-width="3"/>
<line x1="550" y1="567" x2="590" y2="594" stroke="#ff0000" stroke-width="3"/>
<line x1="550" y1="567" x2="534" y2="615" stroke="#ff0000" stroke-width="3"/>
<line x1="550" y1="567" x2="566" y2="615" stroke="#ff0000" stroke-width="3"/>
<line x1="597" y1="567" x2="550" y2="567" stroke="#ff0000" stroke-width="1"/>
<line x1="510" y1="594" x2="534" y2="615" stroke="#ff0000" stroke-width="2"/>
<line x1="590" y1="594" x2="566" y2="615" stroke="#ff0000" stroke-width="2"/>
<line x1="510" y1="594" x2="566" y2="615" stroke="#ff0000" stroke-width="3"/>
<line x1="590" y1="594" x2="534" y2="615" stroke="#ff0000" stroke-width="3"/>
<line x1="510" y1="594" x2="550" y2="590" stroke="#ff0000" stroke-width="3"/>
<line x1="590" y1="594" x2="550" y2="590" stroke="#ff0000" stroke-width="3"/>
<line x1="550" y1="590" x2="534" y2="615" stroke="#ff0000" stroke-width="3"/>
<line x1="550" y1="590" x2="566" y2="615" stroke="#ff0000" stroke-width="3"/>
<line x1="510" y1="594" x2="576" y2="567" stroke="#ff0000" stroke-width="3"/>
<line x1="590" y1="594" x2="524" y2="567" stroke="#ff0000" stroke-width="3"/>
<line x1="503" y1="567" x2="528" y2="591" stroke="#ff0000" stroke-width="1"/>
<line x1="503" y1="567" x2="510" y2="594" stroke="#ff0000" stroke-width="1"/>
<line x1="597" y1="567" x2="572" y2="591" stroke="#ff0000" stroke-width="1"/>
<line x1="503" y1="567" x2="576" y2="567" stroke="#ff0000" stroke-width="2"/>
<line x1="597" y1="567" x2="524" y2="567" stroke="#ff0000" stroke-width="2"/>
<use href="#e6" x="531" y="515"/>
<use href="#e6" x="563" y="515"/>
<use href="#e6" x="507" y="536"/>
<use href="#e6" x="525" y="539"/>
<use href="#e6" x="547" y="540"/>
<use href="#e6" x="569" y="539"/>
<use href="#e6" x="587" y="536"/>
<use href="#e6" x="500" y="564"/>
<use href="#e6" x="521" y="564"/>
<use href="#e6" x="547" y="564"/>
<use href="#e6" x="573" y="564"/>
<use href="#e6" x="594" y="564"/>
<use href="#e6" x="507" y="591"/>
<use href="#e6" x="525" y="588"/>
<use href="#e6" x="547" y="587"/>
<use href="#e6" x="569" y="588"/>
<use href="#e6" x="587" y="591"/>
<use href="#e6" x="531" y="612"/>
<use href="#e6" x="563" y="612"/>
<ellipse cx="642" cy="567" rx="7.5" ry="14" fill="#f4c2c2" stroke="#000"/>
<ellipse cx="747" cy="567" rx="7.5" ry="14" fill="#f4c2c2" stroke="#000"/>
<path d="M687.5,510 C688.5,508.5 689,507 689.5,505 C690.5,501.5 692,499.5 694,499.5 C696,499.5 697.5,501.5 698.5,505 C699,507 699.5,508.5 700.5,510Z" fill="#f4c2c2" stroke="#000"/>
<ellipse cx="694.5" cy="567" rx="54" ry="58.5" fill="#f4c2c2" stroke="#000"/>
<line x1="678" y1="518" x2="654" y2="539" stroke="#0000ff" stroke-width="3"/>
<line x1="678" y1="518" x2="672" y2="542" stroke="#0000ff" stroke-width="3"/>
<line x1="678" y1="518" x2="694" y2="543" stroke="#0000ff" stroke-width="2"/>
<line x1="678" y1="518" x2="647" y2="567" stroke="#0000ff" stroke-width="2"/>
<line x1="678" y1="518" x2="668" y2="567" stroke="#0000ff" stroke-width="3"/>
<line x1="678" y1="518" x2="716" y2="542" stroke="#0000ff" stroke-width="2"/>
<line x1="678" y1="518" x2="672" y2="591" stroke="#0000ff" stroke-width="2"/>
<line x1="710" y1="518" x2="734" y2="539" stroke="#0000ff" stroke-width="1"/>
<line x1="710" y1="518" x2="716" y2="542" stroke="#0000ff" stroke-width="3"/>
<line x1="710" y1="518" x2="694" y2="543" stroke="#0000ff" stroke-width="2"/>
<line x1="710" y1="518" x2="672" y2="542" stroke="#0000ff" stroke-width="2"/>
<line x1="710" y1="518" x2="720" y2="567" stroke="#0000ff" stroke-width="3"/>
<line x1="710" y1="518" x2="741" y2="567" stroke="#0000ff" stroke-width="1"/>
<line x1="710" y1="518" x2="716" y2="591" stroke="#0000ff" stroke-width="2"/>
<line x1="678" y1="518" x2="734" y2="539" stroke="#0000ff" stroke-width="1"/>
<line x1="710" y1="518" x2="654" y2="539" stroke="#0000ff" stroke-width="2"/>
<line x1="654" y1="539" x2="647" y2="567" stroke="#0000ff" stroke-width="1"/>
<line x1="654" y1="539" x2="668" y2="567" stroke="#0000ff" stroke-width="2"/>
<line x1="654" y1="539" x2="672" y2="542" stroke="#0000ff" stroke-width="3"/>
<line x1="672" y1="542" x2="716" y2="542" stroke="#0000ff" stroke-width="3"/>
<line x1="672" y1="542" x2="647" y2="567" stroke="#0000ff" stroke-width="1"/>
<line x1="672" y1="542" x2="668" y2="567" stroke="#0000ff" stroke-width="3"/>
<line x1="672" y1="542" x2="654" y2="594" stroke="#0000ff" stroke-width="3"/>
<line x1="672" y1="542" x2="672" y2="591" stroke="#0000ff" stroke-width="3"/>
<line x1="672" y1="542" x2="694" y2="567" stroke="#0000ff" stroke-width="3"/>
<line x1="716" y1="542" x2="694" y2="567" stroke="#0000ff" stroke-width="3"/>
<line x1="716" y1="542" x2="741" y2="567" stroke="#0000ff" stroke-width="1"/>
<line x1="716" y1="542" x2="720" y2="567" stroke="#0000ff" stroke-width="3"/>
<line x1="716" y1="542" x2="734" y2="594" stroke="#0000ff" stroke-width="3"/>
<line x1="716" y1="542" x2="716" y2="591" stroke="#0000ff" stroke-width="3"/>
<line x1="734" y1="539" x2="741" y2="567" stroke="#0000ff" stroke-width="1"/>
<line x1="734" y1="539" x2="720" y2="567" stroke="#0000ff" stroke-width="1"/>
<line x1="668" y1="567" x2="720" y2="567" stroke="#0000ff" stroke-width="3"/>
<line x1="668" y1="567" x2="654" y2="594" stroke="#0000ff" stroke-width="3"/>
<line x1="668" y1="567" x2="672" y2="591" stroke="#0000ff" stroke-width="3"/>
<line x1="668" y1="567" x2="678" y2="615" stroke="#0000ff" stroke-width="3"/>
<line x1="668" y1="567" x2="694" y2="590" stroke="#0000ff" stroke-width="3"/>
<line x1="720" y1="567" x2="734" y2="594" stroke="#0000ff" stroke-width="3"/>
<line x1="720" y1="567" x2="716" y2="591" stroke="#0000ff" stroke-width="3"/>
<line x1="720" y1="567" x2="710" y2="615" stroke="#0000ff" stroke-width="3"/>
<line x1="720" y1="567" x2="694" y2="590" stroke="#0000ff" stroke-width="3"/>
<line x1="672" y1="591" x2="678" y2="615" stroke="#0000ff" stroke-width="3"/>
<line x1="672" y1="591" x2="710" y2="615" stroke="#0000ff" stroke-width="3"/>
<line x1="716" y1="591" x2="710" y2="615" stroke="#0000ff" stroke-width="3"/>
<line x1="716" y1="591" x2="678" y2="615" stroke="#0000ff" stroke-width="3"/>
<line x1="678" y1="615" x2="710" y2="615" stroke="#0000ff" stroke-width="1"/>
<line x1="647" y1="567" x2="672" y2="591" stroke="#0000ff" stroke-width="1"/>
<line x1="672" y1="591" x2="694" y2="590" stroke="#0000ff" stroke-width="3"/>
<line x1="694" y1="590" x2="716" y2="591" stroke="#0000ff" stroke-width="3"/>
<line x1="741" y1="567" x2="716" y2="591" stroke="#0000ff" stroke-width="1"/>
<line x1="654" y1="539" x2="672" y2="591" stroke="#0000ff" stroke-width="1"/>
<line x1="734" y1="539" x2="716" y2="591" stroke="#0000ff" stroke-width="1"/>
<line x1="647" y1="567" x2="668" y2="567" stroke="#0000ff" stroke-width="1"/>
<line x1="720" y1="567" x2="741" y2="567" stroke="#0000ff" stroke-width="1"/>
<line x1="672" y1="542" x2="678" y2="615" stroke="#0000ff" stroke-width="3"/>
<line x1="716" y1="542" x2="710" y2="615" stroke="#0000ff" stroke-width="3"/>
<line x1="668" y1="567" x2="716" y2="591" stroke="#0000ff" stroke-width="3"/>
<line x1="720" y1="567" x2="672" y2="591" stroke="#0000ff" stroke-width="3"/>
<line x1="694" y1="567" x2="672" y2="591" stroke="#0000ff" stroke-width="3"/>
<line x1="694" y1="567" x2="716" y2="591" stroke="#0000ff" stroke-width="3"/>
<line x1="694" y1="567" x2="678" y2="615" stroke="#0000ff" stroke-width="3"/>
<line x1="694" y1="567" x2="710" y2="615" stroke="#0000ff" stroke-width="3"/>
<line x1="672" y1="542" x2="694" y2="590" stroke="#0000ff" stroke-width="2"/>
<line x1="716" y1="542" x2="694" y2="590" stroke="#0000ff" stroke-width="2"/>
<line x1="672" y1="542" x2="720" y2="567" stroke="#0000ff" stroke-width="2"/>
<line x1="716" y1="542" x2="668" y2="567" stroke="#0000ff" stroke-width="2"/>
<line x1="654" y1="539" x2="734" y2="539" stroke="#ff0000" stroke-width="3"/>
<line x1="694" y1="543" x2="654" y2="594" stroke="#ff0000" stroke-width="3"/>
<line x1="716" y1="542" x2="654" y2="594" stroke="#ff0000" stroke-width="2"/>
<line x1="694" y1="543" x2="734" y2="594" stroke="#ff0000" stroke-width="3"/>
<line x1="694" y1="543" x2="678" y2="615" stroke="#ff0000" stroke-width="3"/>
<line x1="694" y1="543" x2="710" y2="615" stroke="#ff0000" stroke-width="3"/>
<line x1="694" y1="543" x2="694" y2="590" stroke="#ff0000" stroke-width="2"/>
<line x1="694" y1="543" x2="672" y2="591" stroke="#ff0000" stroke-width="2"/>
<line x1="694" y1="543" x2="716" y2="591" stroke="#ff0000" stroke-width="2"/>
<line x1="647" y1="567" x2="694" y2="567" stroke="#ff0000" stroke-width="1"/>
<line x1="741" y1="567" x2="694" y2="567" stroke="#ff0000" stroke-width="1"/>
<line x1="647" y1="567" x2="716" y2="542" stroke="#ff0000" stroke-width="1"/>
<line x1="741" y1="567" x2="672" y2="542" stroke="#ff0000" stroke-width="1"/>
<line x1="654" y1="594" x2="678" y2="615" stroke="#ff0000" stroke-width="3"/>
<line x1="734" y1="594" x2="710" y2="615" stroke="#ff0000" stroke-width="3"/>
<line x1="654" y1="594" x2="710" y2="615" stroke="#ff0000" stroke-width="3"/>
<line x1="734" y1="594" x2="678" y2="615" stroke="#ff0000" stroke-width="3"/>
<line x1="654" y1="594" x2="694" y2="590" stroke="#ff0000" stroke-width="2"/>
<line x1="734" y1="594" x2="694" y2="590" stroke="#ff0000" stroke-width="2"/>
<line x1="694" y1="590" x2="678" y2="615" stroke="#ff0000" stroke-width="3"/>
<line x1="694" y1="590" x2="710" y2="615" stroke="#ff0000" stroke-width="3"/>
<line x1="647" y1="567" x2="654" y2="594" stroke="#ff0000" stroke-width="1"/>
<line x1="741" y1="567" x2="734" y2="594" stroke="#ff0000" stroke-width="1"/>
<line x1="647" y1="567" x2="672" y2="591" stroke="#ff0000" stroke-width="1"/>
<line x1="734" y1="539" x2="668" y2="567" stroke="#ff0000" stroke-width="1"/>
<line x1="654" y1="539" x2="720" y2="567" stroke="#ff0000" stroke-width="1"/>
<line x1="734" y1="539" x2="654" y2="594" stroke="#ff0000" stroke-width="1"/>
<line x1="654" y1="539" x2="734" y2="594" stroke="#ff0000" stroke-width="1"/>
<line x1="741" y1="567" x2="710" y2="615" stroke="#ff0000" stroke-width="1"/>
<line x1="734" y1="539" x2="734" y2="594" stroke="#ff0000" stroke-width="2"/>
<line x1="734" y1="539" x2="716" y2="591" stroke="#ff0000" stroke-width="1"/>
<line x1="647" y1="567" x2="678" y2="615" stroke="#ff0000" stroke-width="1"/>
<use href="#e6" x="675" y="515"/>
<use href="#e6" x="707" y="515"/>
<use href="#e6" x="651" y="536"/>
<use href="#e6" x="669" y="539"/>
<use href="#e6" x="691" y="540"/>
<use href="#e6" x="713" y="539"/>
<use href="#e6" x="731" y="536"/>
<use href="#e6" x="644" y="564"/>
<use href="#e6" x="665" y="564"/>
<use href="#e6" x="691" y="564"/>
<use href="#e6" x="717" y="564"/>
<use href="#e6" x="738" y="564"/>
<use href="#e6" x="651" y="591"/>
<use href="#e6" x="669" y="588"/>
<use href="#e6" x="691" y="587"/>
<use href="#e6" x="713" y="588"/>
<use href="#e6" x="731" y="591"/>
<use href="#e6" x="675" y="612"/>
<use href="#e6" x="707" y="612"/>
<ellipse cx="66" cy="725" rx="7.5" ry="14" fill="#f4c2c2" stroke="#000"/>
<ellipse cx="171" cy="725" rx="7.5" ry="14" fill="#f4c2c2" stroke="#000"/>
<path d="M111.5,668 C112.5,666.5 113,665 113.5,663 C114.5,659.5 116,657.5 118,657.5 C120,657.5 121.5,659.5 122.5,663 C123,665 123.5,666.5 124.5,668Z" fill="#f4c2c2" stroke="#000"/>
<ellipse cx="118.5" cy="725" rx="54" ry="58.5" fill="#f4c2c2" stroke="#000"/>
<line x1="78" y1="697" x2="158" y2="697" stroke="#ff0000" stroke-width="1"/>
<line x1="71" y1="725" x2="158" y2="697" stroke="#ff0000" stroke-width="1"/>
<line x1="118" y1="701" x2="140" y2="700" stroke="#0000ff" stroke-width="1"/>
<use href="#e6" x="99" y="673"/>
<use href="#e6" x="131" y="673"/>
<use href="#e6" x="75" y="694"/>
<use href="#e6" x="93" y="697"/>
<use href="#e6" x="115" y="698"/>
<use href="#e6" x="137" y="697"/>
<use href="#e6" x="155" y="694"/>
<use href="#e6" x="68" y="722"/>
<use href="#e6" x="89" y="722"/>
<use href="#e6" x="115" y="722"/>
<use href="#e6" x="141" y="722"/>
<use href="#e6" x="162" y="722"/>
<use href="#e6" x="75" y="749"/>
<use href="#e6" x="93" y="746"/>
<use href="#e6" x="115" y="745"/>
<use href="#e6" x="137" y="746"/>
<use href="#e6" x="155" y="749"/>
<use href="#e6" x="99" y="770"/>
<use href="#e6" x="131" y="770"/>
<ellipse cx="210" cy="725" rx="7.5" ry="14" fill="#f4c2c2" stroke="#000"/>
<ellipse cx="315" cy="725" rx="7.5" ry="14" fill="#f4c2c2" stroke="#000"/>
<path d="M255.5,668 C256.5,666.5 257,665 257.5,663 C258.5,659.5 260,657.5 262,657.5 C264,657.5 265.5,659.5 266.5,663 C267,665 267.5,666.5 268.5,668Z" fill="#f4c2c2" stroke="#000"/>
<ellipse cx="262.5" cy="725" rx="54" ry="58.5" fill="#f4c2c2" stroke="#000"/>
<line x1="222" y1="697" x2="302" y2="697" stroke="#ff0000" stroke-width="1"/>
<use href="#e6" x="243" y="673"/>
<use href="#e6" x="275" y="673"/>
<use href="#e6" x="219" y="694"/>
<use href="#e6" x="237" y="697"/>
<use href="#e6" x="259" y="698"/>
<use href="#e6" x="281" y="697"/>
<use href="#e6" x="299" y="694"/>
<use href="#e6" x="212" y="722"/>
<use href="#e6" x="233" y="722"/>
<use href="#e6" x="259" y="722"/>
<use href="#e6" x="285" y="722"/>
<use href="#e6" x="306" y="722"/>
<use href="#e6" x="219" y="749"/>
<use href="#e6" x="237" y="746"/>
<use href="#e6" x="259" y="745"/>
<use href="#e6" x="281" y="746"/>
<use href="#e6" x="299" y="749"/>
<use href="#e6" x="243" y="770"/>
<use href="#e6" x="275" y="770"/>
<ellipse cx="354" cy="725" rx="7.5" ry="14" fill="#f4c2c2" stroke="#000"/>
<ellipse cx="459" cy="725" rx="7.5" ry="14" fill="#f4c2c2" stroke="#000"/>
<path d="M399.5,668 C400.5,666.5 401,665 401.5,663 C402.5,659.5 404,657.5 406,657.5 C408,657.5 409.5,659.5 410.5,663 C411,665 411.5,666.5 412.5,668Z" fill="#f4c2c2" stroke="#000"/>
<ellipse cx="406.5" cy="725" rx="54" ry="58.5" fill="#f4c2c2" stroke="#000"/>
<use href="#e6" x="387" y="673"/>
<use href="#e6" x="419" y="673"/>
<use href="#e6" x="363" y="694"/>
<use href="#e6" x="381" y="697"/>
<use href="#e6" x="403" y="698"/>
<use href="#e6" x="425" y="697"/>
<use href="#e6" x="443" y="694"/>
<use href="#e6" x="356" y="722"/>
<use href="#e6" x="377" y="722"/>
<use href="#e6" x="403" y="722"/>
<use href="#e6" x="429" y="722"/>
<use href="#e6" x="450" y="722"/>
<use href="#e6" x="363" y="749"/>
<use href="#e6" x="381" y="746"/>
<use href="#e6" x="403" y="745"/>
<use href="#e6" x="425" y="746"/>
<use href="#e6" x="443" y="749"/>
<use href="#e6" x="387" y="770"/>
<use href="#e6" x="419" y="770"/>
<ellipse cx="498" cy="725" rx="7.5" ry="14" fill="#f4c2c2" stroke="#000"/>
<ellipse cx="603" cy="725" rx="7.5" ry="14" fill="#f4c2c2" stroke="#000"/>
<path d="M543.5,668 C544.5,666.5 545,665 545.5,663 C546.5,659.5 548,657.5 550,657.5 C552,657.5 553.5,659.5 554.5,663 C555,665 555.5,666.5 556.5,668Z" fill="#f4c2c2" stroke="#000"/>
<ellipse cx="550.5" cy="725" rx="54" ry="58.5" fill="#f4c2c2" stroke="#000"/>
<line x1="534" y1="676" x2="550" y2="748" stroke="#ff0000" stroke-width="1"/>
<line x1="534" y1="676" x2="590" y2="752" stroke="#ff0000" stroke-width="1"/>
<line x1="566" y1="676" x2="534" y2="773" stroke="#ff0000" stroke-width="1"/>
<line x1="566" y1="676" x2="566" y2="773" stroke="#ff0000" stroke-width="1"/>
<line x1="528" y1="700" x2="590" y2="752" stroke="#ff0000" stroke-width="1"/>
<line x1="550" y1="748" x2="566" y2="773" stroke="#ff0000" stroke-width="1"/>
<line x1="503" y1="725" x2="534" y2="676" stroke="#0000ff" stroke-width="3"/>
<line x1="503" y1="725" x2="510" y2="697" stroke="#0000ff" stroke-width="3"/>
<line x1="503" y1="725" x2="528" y2="700" stroke="#0000ff" stroke-width="1.5"/>
<line x1="503" y1="725" x2="550" y2="701" stroke="#0000ff" stroke-width="3"/>
<line x1="503" y1="725" x2="572" y2="700" stroke="#0000ff" stroke-width="1"/>
<line x1="503" y1="725" x2="550" y2="725" stroke="#0000ff" stroke-width="3"/>
<line x1="503" y1="725" x2="550" y2="748" stroke="#0000ff" stroke-width="3"/>
<line x1="503" y1="725" x2="528" y2="749" stroke="#0000ff" stroke-width="2.5"/>
<line x1="503" y1="725" x2="510" y2="752" stroke="#0000ff" stroke-width="1"/>
<line x1="503" y1="725" x2="534" y2="773" stroke="#0000ff" stroke-width="1"/>
<line x1="510" y1="752" x2="534" y2="773" stroke="#0000ff" stroke-width="3"/>
<line x1="534" y1="773" x2="566" y2="773" stroke="#0000ff" stroke-width="1"/>
<line x1="510" y1="697" x2="534" y2="676" stroke="#0000ff" stroke-width="2"/>
<line x1="510" y1="697" x2="566" y2="676" stroke="#0000ff" stroke-width="1"/>
<line x1="510" y1="697" x2="528" y2="700" stroke="#0000ff" stroke-width="3"/>
<line x1="528" y1="700" x2="550" y2="701" stroke="#0000ff" stroke-width="3"/>
<line x1="510" y1="697" x2="550" y2="725" stroke="#0000ff" stroke-width="1"/>
<line x1="528" y1="700" x2="550" y2="725" stroke="#0000ff" stroke-width="1"/>
<line x1="572" y1="700" x2="597" y2="725" stroke="#0000ff" stroke-width="1"/>
<line x1="590" y1="697" x2="597" y2="725" stroke="#0000ff" stroke-width="1"/>
<line x1="576" y1="725" x2="597" y2="725" stroke="#0000ff" stroke-width="1"/>
<use href="#e6" x="531" y="673"/>
<use href="#e6" x="563" y="673"/>
<use href="#e6" x="507" y="694"/>
<use href="#e6" x="525" y="697"/>
<use href="#e6" x="547" y="698"/>
<use href="#e6" x="569" y="697"/>
<use href="#e6" x="587" y="694"/>
<use href="#e6" x="500" y="722"/>
<use href="#e6" x="521" y="722"/>
<use href="#e6" x="547" y="722"/>
<use href="#e6" x="573" y="722"/>
<use href="#e6" x="594" y="722"/>
<use href="#e6" x="507" y="749"/>
<use href="#e6" x="525" y="746"/>
<use href="#e6" x="547" y="745"/>
<use href="#e6" x="569" y="746"/>
<use href="#e6" x="587" y="749"/>
<use href="#e6" x="531" y="770"/>
<use href="#e6" x="563" y="770"/>
<ellipse cx="642" cy="725" rx="7.5" ry="14" fill="#f4c2c2" stroke="#000"/>
<ellipse cx="747" cy="725" rx="7.5" ry="14" fill="#f4c2c2" stroke="#000"/>
<path d="M687.5,668 C688.5,666.5 689,665 689.5,663 C690.5,659.5 692,657.5 694,657.5 C696,657.5 697.5,659.5 698.5,663 C699,665 699.5,666.5 700.5,668Z" fill="#f4c2c2" stroke="#000"/>
<ellipse cx="694.5" cy="725" rx="54" ry="58.5" fill="#f4c2c2" stroke="#000"/>
<line x1="678" y1="676" x2="654" y2="697" stroke="#0000ff" stroke-width="1"/>
<line x1="654" y1="697" x2="672" y2="700" stroke="#0000ff" stroke-width="1"/>
<line x1="647" y1="725" x2="668" y2="725" stroke="#0000ff" stroke-width="1"/>
<line x1="678" y1="773" x2="710" y2="773" stroke="#0000ff" stroke-width="1"/>
<line x1="678" y1="676" x2="678" y2="773" stroke="#ff0000" stroke-width="2"/>
<line x1="678" y1="676" x2="694" y2="748" stroke="#ff0000" stroke-width="2"/>
<line x1="694" y1="748" x2="710" y2="773" stroke="#ff0000" stroke-width="2"/>
<line x1="678" y1="676" x2="734" y2="752" stroke="#ff0000" stroke-width="2.5"/>
<line x1="678" y1="676" x2="720" y2="725" stroke="#ff0000" stroke-width="1"/>
<line x1="678" y1="676" x2="716" y2="749" stroke="#ff0000" stroke-width="1"/>
<line x1="710" y1="676" x2="710" y2="773" stroke="#ff0000" stroke-width="1"/>
<line x1="710" y1="676" x2="694" y2="748" stroke="#ff0000" stroke-width="1"/>
<line x1="672" y1="700" x2="672" y2="749" stroke="#ff0000" stroke-width="1"/>
<line x1="672" y1="700" x2="678" y2="773" stroke="#ff0000" stroke-width="1"/>
<line x1="672" y1="700" x2="734" y2="752" stroke="#ff0000" stroke-width="1"/>
<line x1="672" y1="700" x2="716" y2="749" stroke="#ff0000" stroke-width="1"/>
<line x1="694" y1="701" x2="734" y2="752" stroke="#ff0000" stroke-width="1"/>
<line x1="716" y1="700" x2="710" y2="773" stroke="#ff0000" stroke-width="1"/>
<line x1="720" y1="725" x2="734" y2="752" stroke="#ff0000" stroke-width="1.5"/>
<line x1="720" y1="725" x2="710" y2="773" stroke="#ff0000" stroke-width="1"/>
<line x1="716" y1="749" x2="734" y2="752" stroke="#ff0000" stroke-width="1"/>
<line x1="694" y1="748" x2="678" y2="773" stroke="#ff0000" stroke-width="1"/>
<line x1="716" y1="749" x2="710" y2="773" stroke="#ff0000" stroke-width="1"/>
<use href="#e6" x="675" y="673"/>
<use href="#e6" x="707" y="673"/>
<use href="#e6" x="651" y="694"/>
<use href="#e6" x="669" y="697"/>
<use href="#e6" x="691" y="698"/>
<use href="#e6" x="713" y="697"/>
<use href="#e6" x="731" y="694"/>
<use href="#e6" x="644" y="722"/>
<use href="#e6" x="665" y="722"/>
<use href="#e6" x="691" y="722"/>
<use href="#e6" x="717" y="722"/>
<use href="#e6" x="738" y="722"/>
<use href="#e6" x="651" y="749"/>
<use href="#e6" x="669" y="746"/>
<use href="#e6" x="691" y="745"/>
<use href="#e6" x="713" y="746"/>
<use href="#e6" x="731" y="749"/>
<use href="#e6" x="675" y="770"/>
<use href="#e6" x="707" y="770"/>
<ellipse cx="66" cy="883" rx="7.5" ry="14" fill="#f4c2c2" stroke="#000"/>
<ellipse cx="171" cy="883" rx="7.5" ry="14" fill="#f4c2c2" stroke="#000"/>
<path d="M111.5,826 C112.5,824.5 113,823 113.5,821 C114.5,817.5 116,815.5 118,815.5 C120,815.5 121.5,817.5 122.5,821 C123,823 123.5,824.5 124.5,826Z" fill="#f4c2c2" stroke="#000"/>
<ellipse cx="118.5" cy="883" rx="54" ry="58.5" fill="#f4c2c2" stroke="#000"/>
<path d="M78,910 Q122.8,895.7 158,855" fill="none" stroke="#0000ff" stroke-width="1"/>
<line x1="102" y1="834" x2="78" y2="855" stroke="#0000ff" stroke-width="1"/>
<line x1="78" y1="855" x2="118" y2="883" stroke="#0000ff" stroke-width="1"/>
<line x1="92" y1="883" x2="96" y2="907" stroke="#0000ff" stroke-width="1"/>
<line x1="118" y1="883" x2="134" y2="931" stroke="#0000ff" stroke-width="2"/>
<line x1="144" y1="883" x2="134" y2="931" stroke="#0000ff" stroke-width="1"/>
<line x1="165" y1="883" x2="158" y2="910" stroke="#0000ff" stroke-width="1"/>
<line x1="118" y1="859" x2="140" y2="858" stroke="#ff0000" stroke-width="1"/>
<line x1="140" y1="858" x2="118" y2="883" stroke="#ff0000" stroke-width="1"/>
<line x1="140" y1="858" x2="144" y2="883" stroke="#ff0000" stroke-width="1"/>
<use href="#e6" x="99" y="831"/>
<use href="#e6" x="131" y="831"/>
<use href="#e6" x="75" y="852"/>
<use href="#e6" x="93" y="855"/>
<use href="#e6" x="115" y="856"/>
<use href="#e6" x="137" y="855"/>
<use href="#e6" x="155" y="852"/>
<use href="#e6" x="68" y="880"/>
<use href="#e6" x="89" y="880"/>
<use href="#e6" x="115" y="880"/>
<use href="#e6" x="141" y="880"/>
<use href="#e6" x="162" y="880"/>
<use href="#e6" x="75" y="907"/>
<use href="#e6" x="93" y="904"/>
<use href="#e6" x="115" y="903"/>
<use href="#e6" x="137" y="904"/>
<use href="#e6" x="155" y="907"/>
<use href="#e6" x="99" y="928"/>
<use href="#e6" x="131" y="928"/>
<ellipse cx="210" cy="883" rx="7.5" ry="14" fill="#f4c2c2" stroke="#000"/>
<ellipse cx="315" cy="883" rx="7.5" ry="14" fill="#f4c2c2" stroke="#000"/>
<path d="M255.5,826 C256.5,824.5 257,823 257.5,821 C258.5,817.5 260,815.5 262,815.5 C264,815.5 265.5,817.5 266.5,821 C267,823 267.5,824.5 268.5,826Z" fill="#f4c2c2" stroke="#000"/>
<ellipse cx="262.5" cy="883" rx="54" ry="58.5" fill="#f4c2c2" stroke="#000"/>
<path d="M284,858 Q251.8,882.7 215,883" fill="none" stroke="#0000ff" stroke-width="1"/>
<line x1="246" y1="834" x2="284" y2="858" stroke="#0000ff" stroke-width="3"/>
<line x1="246" y1="834" x2="262" y2="859" stroke="#0000ff" stroke-width="1"/>
<line x1="284" y1="858" x2="262" y2="883" stroke="#0000ff" stroke-width="3"/>
<line x1="215" y1="883" x2="262" y2="883" stroke="#0000ff" stroke-width="1"/>
<line x1="262" y1="859" x2="246" y2="931" stroke="#0000ff" stroke-width="2.5"/>
<line x1="262" y1="859" x2="278" y2="931" stroke="#0000ff" stroke-width="1"/>
<line x1="302" y1="855" x2="240" y2="907" stroke="#0000ff" stroke-width="1"/>
<line x1="302" y1="855" x2="288" y2="883" stroke="#0000ff" stroke-width="1"/>
<line x1="302" y1="855" x2="284" y2="907" stroke="#0000ff" stroke-width="1"/>
<use href="#e6" x="243" y="831"/>
<use href="#e6" x="275" y="831"/>
<use href="#e6" x="219" y="852"/>
<use href="#e6" x="237" y="855"/>
<use href="#e6" x="259" y="856"/>
<use href="#e6" x="281" y="855"/>
<use href="#e6" x="299" y="852"/>
<use href="#e6" x="212" y="880"/>
<use href="#e6" x="233" y="880"/>
<use href="#e6" x="259" y="880"/>
<use href="#e6" x="285" y="880"/>
<use href="#e6" x="306" y="880"/>
<use href="#e6" x="219" y="907"/>
<use href="#e6" x="237" y="904"/>
<use href="#e6" x="259" y="903"/>
<use href="#e6" x="281" y="904"/>
<use href="#e6" x="299" y="907"/>
<use href="#e6" x="243" y="928"/>
<use href="#e6" x="275" y="928"/>
<ellipse cx="354" cy="883" rx="7.5" ry="14" fill="#f4c2c2" stroke="#000"/>
<ellipse cx="459" cy="883" rx="7.5" ry="14" fill="#f4c2c2" stroke="#000"/>
<path d="M399.5,826 C400.5,824.5 401,823 401.5,821 C402.5,817.5 404,815.5 406,815.5 C408,815.5 409.5,817.5 410.5,821 C411,823 411.5,824.5 412.5,826Z" fill="#f4c2c2" stroke="#000"/>
<ellipse cx="406.5" cy="883" rx="54" ry="58.5" fill="#f4c2c2" stroke="#000"/>
<line x1="390" y1="834" x2="390" y2="931" stroke="#0000ff" stroke-width="3"/>
<line x1="390" y1="834" x2="422" y2="931" stroke="#0000ff" stroke-width="3"/>
<line x1="390" y1="834" x2="366" y2="910" stroke="#0000ff" stroke-width="2"/>
<line x1="422" y1="834" x2="422" y2="931" stroke="#0000ff" stroke-width="3"/>
<line x1="422" y1="834" x2="390" y2="931" stroke="#0000ff" stroke-width="3"/>
<line x1="422" y1="834" x2="366" y2="910" stroke="#0000ff" stroke-width="3"/>
<line x1="366" y1="855" x2="446" y2="910" stroke="#0000ff" stroke-width="3"/>
<line x1="366" y1="910" x2="432" y2="883" stroke="#0000ff" stroke-width="3"/>
<line x1="446" y1="855" x2="390" y2="931" stroke="#0000ff" stroke-width="3"/>
<line x1="366" y1="855" x2="384" y2="858" stroke="#0000ff" stroke-width="1"/>
<line x1="359" y1="883" x2="384" y2="858" stroke="#0000ff" stroke-width="1"/>
<line x1="359" y1="883" x2="406" y2="883" stroke="#0000ff" stroke-width="1"/>
<line x1="384" y1="858" x2="446" y2="910" stroke="#0000ff" stroke-width="2"/>
<line x1="422" y1="931" x2="384" y2="858" stroke="#0000ff" stroke-width="3"/>
<line x1="428" y1="858" x2="428" y2="907" stroke="#0000ff" stroke-width="1"/>
<line x1="428" y1="858" x2="422" y2="931" stroke="#0000ff" stroke-width="1"/>
<line x1="432" y1="883" x2="446" y2="910" stroke="#0000ff" stroke-width="1"/>
<line x1="428" y1="907" x2="446" y2="910" stroke="#0000ff" stroke-width="1"/>
<line x1="446" y1="910" x2="422" y2="931" stroke="#0000ff" stroke-width="1"/>
<line x1="390" y1="834" x2="432" y2="883" stroke="#0000ff" stroke-width="1"/>
<line x1="446" y1="910" x2="406" y2="859" stroke="#0000ff" stroke-width="1"/>
<line x1="366" y1="855" x2="406" y2="859" stroke="#0000ff" stroke-width="1"/>
<line x1="432" y1="883" x2="422" y2="931" stroke="#0000ff" stroke-width="1"/>
<line x1="446" y1="855" x2="432" y2="883" stroke="#0000ff" stroke-width="2"/>
<use href="#e6" x="387" y="831"/>
<use href="#e6" x="419" y="831"/>
<use href="#e6" x="363" y="852"/>
<use href="#e6" x="381" y="855"/>
<use href="#e6" x="403" y="856"/>
<use href="#e6" x="425" y="855"/>
<use href="#e6" x="443" y="852"/>
<use href="#e6" x="356" y="880"/>
<use href="#e6" x="377" y="880"/>
<use href="#e6" x="403" y="880"/>
<use href="#e6" x="429" y="880"/>
<use href="#e6" x="450" y="880"/>
<use href="#e6" x="363" y="907"/>
<use href="#e6" x="381" y="904"/>
<use href="#e6" x="403" y="903"/>
<use href="#e6" x="425" y="904"/>
<use href="#e6" x="443" y="907"/>
<use href="#e6" x="387" y="928"/>
<use href="#e6" x="419" y="928"/>
<ellipse cx="498" cy="883" rx="7.5" ry="14" fill="#f4c2c2" stroke="#000"/>
<ellipse cx="603" cy="883" rx="7.5" ry="14" fill="#f4c2c2" stroke="#000"/>
<path d="M543.5,826 C544.5,824.5 545,823 545.5,821 C546.5,817.5 548,815.5 550,815.5 C552,815.5 553.5,817.5 554.5,821 C555,823 555.5,824.5 556.5,826Z" fill="#f4c2c2" stroke="#000"/>
<ellipse cx="550.5" cy="883" rx="54" ry="58.5" fill="#f4c2c2" stroke="#000"/>
<line x1="534" y1="834" x2="534" y2="931" stroke="#0000ff" stroke-width="2"/>
<line x1="534" y1="834" x2="590" y2="910" stroke="#0000ff" stroke-width="3"/>
<line x1="534" y1="834" x2="550" y2="906" stroke="#0000ff" stroke-width="1.5"/>
<line x1="566" y1="834" x2="550" y2="906" stroke="#0000ff" stroke-width="3"/>
<line x1="550" y1="906" x2="534" y2="931" stroke="#0000ff" stroke-width="3"/>
<line x1="566" y1="834" x2="510" y2="910" stroke="#0000ff" stroke-width="2.5"/>
<line x1="566" y1="834" x2="590" y2="910" stroke="#0000ff" stroke-width="3"/>
<line x1="566" y1="834" x2="566" y2="931" stroke="#0000ff" stroke-width="1"/>
<line x1="566" y1="834" x2="572" y2="907" stroke="#0000ff" stroke-width="1"/>
<line x1="590" y1="855" x2="510" y2="910" stroke="#0000ff" stroke-width="1"/>
<line x1="590" y1="855" x2="534" y2="931" stroke="#0000ff" stroke-width="1"/>
<line x1="550" y1="906" x2="566" y2="931" stroke="#0000ff" stroke-width="2"/>
<line x1="550" y1="906" x2="590" y2="910" stroke="#0000ff" stroke-width="1"/>
<line x1="572" y1="907" x2="590" y2="910" stroke="#0000ff" stroke-width="2"/>
<line x1="528" y1="858" x2="550" y2="883" stroke="#0000ff" stroke-width="1"/>
<line x1="503" y1="883" x2="510" y2="855" stroke="#ff0000" stroke-width="3"/>
<line x1="503" y1="883" x2="534" y2="834" stroke="#ff0000" stroke-width="3"/>
<line x1="503" y1="883" x2="528" y2="858" stroke="#ff0000" stroke-width="2"/>
<line x1="503" y1="883" x2="550" y2="859" stroke="#ff0000" stroke-width="3"/>
<line x1="503" y1="883" x2="524" y2="883" stroke="#ff0000" stroke-width="3"/>
<line x1="503" y1="883" x2="566" y2="834" stroke="#ff0000" stroke-width="1"/>
<line x1="503" y1="883" x2="572" y2="858" stroke="#ff0000" stroke-width="1"/>
<line x1="590" y1="855" x2="597" y2="883" stroke="#ff0000" stroke-width="1"/>
<use href="#e6" x="531" y="831"/>
<use href="#e6" x="563" y="831"/>
<use href="#e6" x="507" y="852"/>
<use href="#e6" x="525" y="855"/>
<use href="#e6" x="547" y="856"/>
<use href="#e6" x="569" y="855"/>
<use href="#e6" x="587" y="852"/>
<use href="#e6" x="500" y="880"/>
<use href="#e6" x="521" y="880"/>
<use href="#e6" x="547" y="880"/>
<use href="#e6" x="573" y="880"/>
<use href="#e6" x="594" y="880"/>
<use href="#e6" x="507" y="907"/>
<use href="#e6" x="525" y="904"/>
<use href="#e6" x="547" y="903"/>
<use href="#e6" x="569" y="904"/>
<use href="#e6" x="587" y="907"/>
<use href="#e6" x="531" y="928"/>
<use href="#e6" x="563" y="928"/>
<ellipse cx="642" cy="883" rx="7.5" ry="14" fill="#f4c2c2" stroke="#000"/>
<ellipse cx="747" cy="883" rx="7.5" ry="14" fill="#f4c2c2" stroke="#000"/>
<path d="M687.5,826 C688.5,824.5 689,823 689.5,821 C690.5,817.5 692,815.5 694,815.5 C696,815.5 697.5,817.5 698.5,821 C699,823 699.5,824.5 700.5,826Z" fill="#f4c2c2" stroke="#000"/>
<ellipse cx="694.5" cy="883" rx="54" ry="58.5" fill="#f4c2c2" stroke="#000"/>
<line x1="654" y1="855" x2="647" y2="883" stroke="#0000ff" stroke-width="1"/>
<line x1="672" y1="858" x2="654" y2="910" stroke="#0000ff" stroke-width="1"/>
<line x1="678" y1="834" x2="694" y2="906" stroke="#0000ff" stroke-width="1"/>
<line x1="694" y1="906" x2="710" y2="931" stroke="#0000ff" stroke-width="1"/>
<line x1="710" y1="834" x2="654" y2="910" stroke="#0000ff" stroke-width="3"/>
<line x1="710" y1="834" x2="678" y2="931" stroke="#0000ff" stroke-width="2.5"/>
<line x1="710" y1="834" x2="694" y2="883" stroke="#0000ff" stroke-width="2"/>
<line x1="710" y1="834" x2="672" y2="907" stroke="#0000ff" stroke-width="1"/>
<line x1="734" y1="855" x2="694" y2="883" stroke="#0000ff" stroke-width="2"/>
<line x1="734" y1="855" x2="668" y2="883" stroke="#0000ff" stroke-width="1"/>
<line x1="734" y1="855" x2="672" y2="907" stroke="#0000ff" stroke-width="1"/>
<line x1="734" y1="855" x2="734" y2="910" stroke="#0000ff" stroke-width="1"/>
<line x1="694" y1="859" x2="654" y2="910" stroke="#0000ff" stroke-width="1"/>
<line x1="672" y1="907" x2="710" y2="931" stroke="#ff0000" stroke-width="1"/>
<use href="#e6" x="675" y="831"/>
<use href="#e6" x="707" y="831"/>
<use href="#e6" x="651" y="852"/>
<use href="#e6" x="669" y="855"/>
<use href="#e6" x="691" y="856"/>
<use href="#e6" x="713" y="855"/>
<use href="#e6" x="731" y="852"/>
<use href="#e6" x="644" y="880"/>
<use href="#e6" x="665" y="880"/>
<use href="#e6" x="691" y="880"/>
<use href="#e6" x="717" y="880"/>
<use href="#e6" x="738" y="880"/>
<use href="#e6" x="651" y="907"/>
<use href="#e6" x="669" y="904"/>
<use href="#e6" x="691" y="903"/>
<use href="#e6" x="713" y="904"/>
<use href="#e6" x="731" y="907"/>
<use href="#e6" x="675" y="928"/>
<use href="#e6" x="707" y="928"/>
<rect x="360" y="459" width="7.3" height="5" fill="#0000ff"/>
<rect x="366.9" y="459" width="8.3" height="5" fill="#0070ff"/>
<rect x="374.8" y="459" width="8.3" height="5" fill="#00c8ff"/>
<rect x="382.7" y="459" width="8.3" height="5" fill="#00ffdc"/>
<rect x="390.6" y="459" width="8.3" height="5" fill="#00ff80"/>
<rect x="398.5" y="459" width="8.3" height="5" fill="#00ff00"/>
<rect x="406.4" y="459" width="8.3" height="5" fill="#00ff00"/>
<rect x="414.3" y="459" width="8.3" height="5" fill="#80ff00"/>
<rect x="422.2" y="459" width="8.3" height="5" fill="#dcff00"/>
<rect x="430.1" y="459" width="8.3" height="5" fill="#ffc800"/>
<rect x="438" y="459" width="8.3" height="5" fill="#ff7000"/>
<rect x="445.9" y="459" width="8.1" height="5" fill="#ff0000"/>
<path d="M360.5,467 V458.5 H453.5 V467" fill="none" stroke="#000"/>
<path d="M367.5,464 v3" stroke="#000"/>
<path d="M375.5,464 v3" stroke="#000"/>
<path d="M383.5,464 v3" stroke="#000"/>
<path d="M391.5,464 v3" stroke="#000"/>
<path d="M399.5,464 v3" stroke="#000"/>
<path d="M407.5,464 v3" stroke="#000"/>
<path d="M414.5,464 v3" stroke="#000"/>
<path d="M422.5,464 v3" stroke="#000"/>
<path d="M430.5,464 v3" stroke="#000"/>
<path d="M438.5,464 v3" stroke="#000"/>
<path d="M446.5,464 v3" stroke="#000"/>
<line x1="123" y1="951.5" x2="201" y2="951.5" stroke="#0000ff" stroke-width="1"/><line x1="201" y1="951.5" x2="278" y2="951.5" stroke="#ff0000" stroke-width="1"/>
<line x1="330" y1="951" x2="408" y2="951" stroke="#0000ff" stroke-width="2"/><line x1="408" y1="951" x2="485" y2="951" stroke="#ff0000" stroke-width="2"/>
<line x1="535" y1="951.5" x2="613" y2="951.5" stroke="#0000ff" stroke-width="3"/><line x1="613" y1="951.5" x2="692.5" y2="951.5" stroke="#ff0000" stroke-width="3"/>
<use href="#e4" x="100" y="183"/>
<use href="#e4" x="134" y="183"/>
<use href="#e4" x="72" y="208"/>
<use href="#e4" x="95" y="209"/>
<use href="#e4" x="117" y="210"/>
<use href="#e4" x="139" y="209"/>
<use href="#e4" x="162" y="208"/>
<use href="#e4" x="66" y="235"/>
<use href="#e4" x="91" y="235"/>
<use href="#e4" x="117" y="235"/>
<use href="#e4" x="143" y="235"/>
<use href="#e4" x="168" y="235"/>
<use href="#e4" x="72" y="262"/>
<use href="#e4" x="95" y="261"/>
<use href="#e4" x="117" y="260"/>
<use href="#e4" x="139" y="261"/>
<use href="#e4" x="162" y="262"/>
<use href="#e4" x="100" y="287"/>
<use href="#e4" x="134" y="287"/>
<use href="#e4" x="244" y="183"/>
<use href="#e4" x="278" y="183"/>
<use href="#e4" x="216" y="208"/>
<use href="#e4" x="239" y="209"/>
<use href="#e4" x="261" y="210"/>
<use href="#e4" x="283" y="209"/>
<use href="#e4" x="306" y="208"/>
<use href="#e4" x="210" y="235"/>
<use href="#e4" x="235" y="235"/>
<use href="#e4" x="261" y="235"/>
<use href="#e4" x="287" y="235"/>
<use href="#e4" x="312" y="235"/>
<use href="#e4" x="216" y="262"/>
<use href="#e4" x="239" y="261"/>
<use href="#e4" x="261" y="260"/>
<use href="#e4" x="283" y="261"/>
<use href="#e4" x="306" y="262"/>
<use href="#e4" x="244" y="287"/>
<use href="#e4" x="278" y="287"/>
<use href="#e4" x="388" y="183"/>
<use href="#e4" x="422" y="183"/>
<use href="#e4" x="360" y="208"/>
<use href="#e4" x="383" y="209"/>
<use href="#e4" x="405" y="210"/>
<use href="#e4" x="427" y="209"/>
<use href="#e4" x="450" y="208"/>
<use href="#e4" x="354" y="235"/>
<use href="#e4" x="379" y="235"/>
<use href="#e4" x="405" y="235"/>
<use href="#e4" x="431" y="235"/>
<use href="#e4" x="456" y="235"/>
<use href="#e4" x="360" y="262"/>
<use href="#e4" x="383" y="261"/>
<use href="#e4" x="405" y="260"/>
<use href="#e4" x="427" y="261"/>
<use href="#e4" x="450" y="262"/>
<use href="#e4" x="388" y="287"/>
<use href="#e4" x="422" y="287"/>
<use href="#e4" x="532" y="183"/>
<use href="#e4" x="566" y="183"/>
<use href="#e4" x="504" y="208"/>
<use href="#e4" x="527" y="209"/>
<use href="#e4" x="549" y="210"/>
<use href="#e4" x="571" y="209"/>
<use href="#e4" x="594" y="208"/>
<use href="#e4" x="498" y="235"/>
<use href="#e4" x="523" y="235"/>
<use href="#e4" x="549" y="235"/>
<use href="#e4" x="575" y="235"/>
<use href="#e4" x="600" y="235"/>
<use href="#e4" x="504" y="262"/>
<use href="#e4" x="527" y="261"/>
<use href="#e4" x="549" y="260"/>
<use href="#e4" x="571" y="261"/>
<use href="#e4" x="594" y="262"/>
<use href="#e4" x="532" y="287"/>
<use href="#e4" x="566" y="287"/>
<use href="#e4" x="676" y="183"/>
<use href="#e4" x="710" y="183"/>
<use href="#e4" x="648" y="208"/>
<use href="#e4" x="671" y="209"/>
<use href="#e4" x="693" y="210"/>
<use href="#e4" x="715" y="209"/>
<use href="#e4" x="738" y="208"/>
<use href="#e4" x="642" y="235"/>
<use href="#e4" x="667" y="235"/>
<use href="#e4" x="693" y="235"/>
<use href="#e4" x="719" y="235"/>
<use href="#e4" x="744" y="235"/>
<use href="#e4" x="648" y="262"/>
<use href="#e4" x="671" y="261"/>
<use href="#e4" x="693" y="260"/>
<use href="#e4" x="715" y="261"/>
<use href="#e4" x="738" y="262"/>
<use href="#e4" x="676" y="287"/>
<use href="#e4" x="710" y="287"/>
<use href="#e4" x="100" y="341"/>
<use href="#e4" x="134" y="341"/>
<use href="#e4" x="72" y="366"/>
<use href="#e4" x="95" y="367"/>
<use href="#e4" x="117" y="368"/>
<use href="#e4" x="139" y="367"/>
<use href="#e4" x="162" y="366"/>
<use href="#e4" x="66" y="393"/>
<use href="#e4" x="91" y="393"/>
<use href="#e4" x="117" y="393"/>
<use href="#e4" x="143" y="393"/>
<use href="#e4" x="168" y="393"/>
<use href="#e4" x="72" y="420"/>
<use href="#e4" x="95" y="419"/>
<use href="#e4" x="117" y="418"/>
<use href="#e4" x="139" y="419"/>
<use href="#e4" x="162" y="420"/>
<use href="#e4" x="100" y="445"/>
<use href="#e4" x="134" y="445"/>
<use href="#e4" x="244" y="341"/>
<use href="#e4" x="278" y="341"/>
<use href="#e4" x="216" y="366"/>
<use href="#e4" x="239" y="367"/>
<use href="#e4" x="261" y="368"/>
<use href="#e4" x="283" y="367"/>
<use href="#e4" x="306" y="366"/>
<use href="#e4" x="210" y="393"/>
<use href="#e4" x="235" y="393"/>
<use href="#e4" x="261" y="393"/>
<use href="#e4" x="287" y="393"/>
<use href="#e4" x="312" y="393"/>
<use href="#e4" x="216" y="420"/>
<use href="#e4" x="239" y="419"/>
<use href="#e4" x="261" y="418"/>
<use href="#e4" x="283" y="419"/>
<use href="#e4" x="306" y="420"/>
<use href="#e4" x="244" y="445"/>
<use href="#e4" x="278" y="445"/>
<use href="#e4" x="388" y="341"/>
<use href="#e4" x="422" y="341"/>
<use href="#e4" x="360" y="366"/>
<use href="#e4" x="383" y="367"/>
<use href="#e4" x="405" y="368"/>
<use href="#e4" x="427" y="367"/>
<use href="#e4" x="450" y="366"/>
<use href="#e4" x="354" y="393"/>
<use href="#e4" x="379" y="393"/>
<use href="#e4" x="405" y="393"/>
<use href="#e4" x="431" y="393"/>
<use href="#e4" x="456" y="393"/>
<use href="#e4" x="360" y="420"/>
<use href="#e4" x="383" y="419"/>
<use href="#e4" x="405" y="418"/>
<use href="#e4" x="427" y="419"/>
<use href="#e4" x="450" y="420"/>
<use href="#e4" x="388" y="445"/>
<use href="#e4" x="422" y="445"/>
<use href="#e4" x="532" y="341"/>
<use href="#e4" x="566" y="341"/>
<use href="#e4" x="504" y="366"/>
<use href="#e4" x="527" y="367"/>
<use href="#e4" x="549" y="368"/>
<use href="#e4" x="571" y="367"/>
<use href="#e4" x="594" y="366"/>
<use href="#e4" x="498" y="393"/>
<use href="#e4" x="523" y="393"/>
<use href="#e4" x="549" y="393"/>
<use href="#e4" x="575" y="393"/>
<use href="#e4" x="600" y="393"/>
<use href="#e4" x="504" y="420"/>
<use href="#e4" x="527" y="419"/>
<use href="#e4" x="549" y="418"/>
<use href="#e4" x="571" y="419"/>
<use href="#e4" x="594" y="420"/>
<use href="#e4" x="532" y="445"/>
<use href="#e4" x="566" y="445"/>
<use href="#e4" x="676" y="341"/>
<use href="#e4" x="710" y="341"/>
<use href="#e4" x="648" y="366"/>
<use href="#e4" x="671" y="367"/>
<use href="#e4" x="693" y="368"/>
<use href="#e4" x="715" y="367"/>
<use href="#e4" x="738" y="366"/>
<use href="#e4" x="642" y="393"/>
<use href="#e4" x="667" y="393"/>
<use href="#e4" x="693" y="393"/>
<use href="#e4" x="719" y="393"/>
<use href="#e4" x="744" y="393"/>
<use href="#e4" x="648" y="420"/>
<use href="#e4" x="671" y="419"/>
<use href="#e4" x="693" y="418"/>
<use href="#e4" x="715" y="419"/>
<use href="#e4" x="738" y="420"/>
<use href="#e4" x="676" y="445"/>
<use href="#e4" x="710" y="445"/>
</g>
<g>
<text x="57" y="70" style="font-size:13px;" text-anchor="start">Montage:  LinkEars</text>
<text x="406.5" y="103" style="font-size:17.9px;" text-anchor="middle">Z Scored FFT Summary Information</text>
<text x="118.5" y="140" style="font-size:13px;font-weight:bold;" text-anchor="middle">Delta</text>
<text x="262.5" y="140" style="font-size:13px;font-weight:bold;" text-anchor="middle">Theta</text>
<text x="406.5" y="140" style="font-size:13px;font-weight:bold;" text-anchor="middle">Alpha</text>
<text x="550.5" y="140" style="font-size:13px;font-weight:bold;" text-anchor="middle">Beta</text>
<text x="694.5" y="140" style="font-size:13px;font-weight:bold;" text-anchor="middle">High Beta</text>
<text x="67" y="165" style="font-size:13.15px;font-weight:bold;" text-anchor="start">Absolute Power</text>
<text x="67" y="323" style="font-size:13.15px;font-weight:bold;" text-anchor="start">Relative Power</text>
<text x="67" y="495" style="font-size:13.15px;font-weight:bold;" text-anchor="start">Amplitude Asymmetry</text>
<text x="67" y="653" style="font-size:13.15px;font-weight:bold;" text-anchor="start">Coherence</text>
<text x="67" y="811" style="font-size:13.15px;font-weight:bold;" text-anchor="start">Phase Lag</text>
<text x="57" y="995" style="font-size:13px;" text-anchor="start">© 2001-2023, Applied NeuroScience, Inc.</text>
<text x="403" y="995" style="font-size:13px;" text-anchor="start">3</text>
<text x="200.5" y="967" style="font-size:10.3px;" text-anchor="middle">Z-Score &gt;= 1.96</text>
<text x="406.5" y="967" style="font-size:10.3px;" text-anchor="middle">Z-Score &gt;= 2.58</text>
<text x="612.5" y="967" style="font-size:10.3px;" text-anchor="middle">Z-Score &gt;= 3.09</text>
<text x="115" y="955" style="font-size:13px;" text-anchor="start">-</text>
<text x="322.5" y="955" style="font-size:13px;" text-anchor="start">-</text>
<text x="528.5" y="955" style="font-size:13px;" text-anchor="start">-</text>
<text x="282" y="956" style="font-size:13px;" text-anchor="start">+</text>
<text x="488" y="956" style="font-size:13px;" text-anchor="start">+</text>
<text x="694.5" y="956" style="font-size:13px;" text-anchor="start">+</text>
<text x="360" y="477" style="font-size:10.3px;" text-anchor="middle">-3</text>
<text x="375" y="477" style="font-size:10.3px;" text-anchor="middle">-2</text>
<text x="390.5" y="477" style="font-size:10.3px;" text-anchor="middle">-1</text>
<text x="406.7" y="477" style="font-size:10.3px;" text-anchor="middle">0</text>
<text x="422.3" y="477" style="font-size:10.3px;" text-anchor="middle">1</text>
<text x="438.2" y="477" style="font-size:10.3px;" text-anchor="middle">2</text>
<text x="454.5" y="477" style="font-size:10.3px;" text-anchor="middle">3</text>
</g>
</svg>
</body></html>
